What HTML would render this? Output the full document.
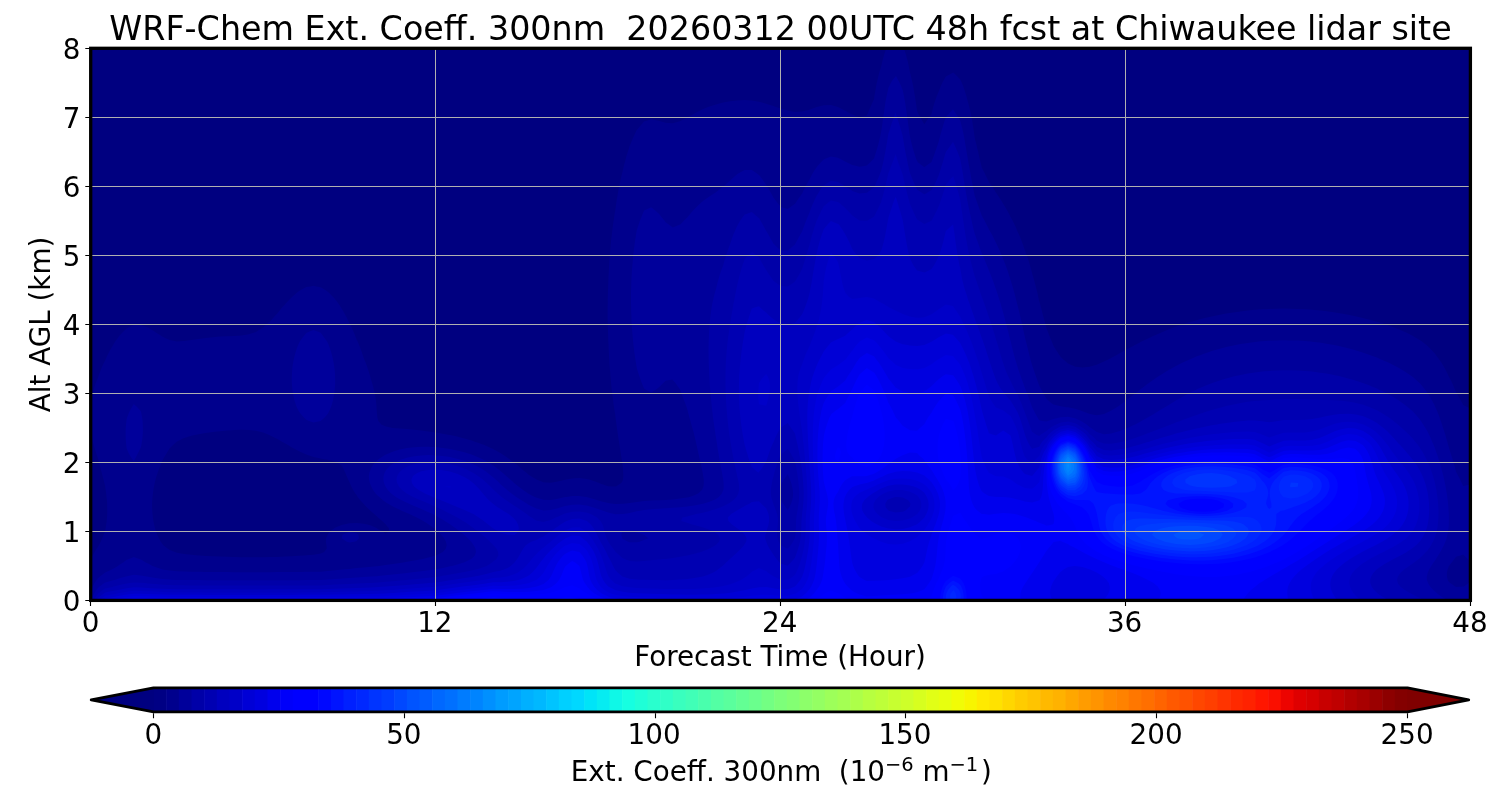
<!DOCTYPE html>
<html><head><meta charset="utf-8"><title>WRF-Chem Ext. Coeff.</title>
<style>html,body{margin:0;padding:0;background:#fff;}svg{display:block;}text{font-family:'DejaVu Sans','Liberation Sans',sans-serif;fill:#000;}</style></head><body>
<svg width="1500" height="800" viewBox="0 0 1500 800">
<rect width="1500" height="800" fill="#fff"/>
<g id="field">
<rect x="90.70" y="48.30" width="1379.70" height="552.10" fill="#000080"/>
<path fill="#00008d" fill-rule="evenodd" d="M97.9 600.4L105.1 600.4L112.3 600.4L119.4 600.4L126.6 600.4L133.8 600.4L141 600.4L148.2 600.4L155.4 600.4L162.6 600.4L169.7 600.4L176.9 600.4L184.1 600.4L191.3 600.4L198.5 600.4L205.7 600.4L212.9 600.4L220 600.4L227.2 600.4L234.4 600.4L241.6 600.4L248.8 600.4L256 600.4L263.2 600.4L270.3 600.4L277.5 600.4L284.7 600.4L291.9 600.4L299.1 600.4L306.3 600.4L313.5 600.4L320.7 600.4L327.8 600.4L335 600.4L342.2 600.4L349.4 600.4L356.6 600.4L363.8 600.4L371 600.4L378.1 600.4L385.3 600.4L392.5 600.4L399.7 600.4L406.9 600.4L414.1 600.4L421.3 600.4L428.4 600.4L435.6 600.4L442.8 600.4L450 600.4L457.2 600.4L464.4 600.4L471.6 600.4L478.7 600.4L485.9 600.4L493.1 600.4L500.3 600.4L507.5 600.4L514.7 600.4L521.9 600.4L529 600.4L536.2 600.4L543.4 600.4L550.6 600.4L557.8 600.4L565 600.4L572.2 600.4L579.3 600.4L586.5 600.4L593.7 600.4L600.9 600.4L608.1 600.4L615.3 600.4L622.5 600.4L629.6 600.4L636.8 600.4L644 600.4L651.2 600.4L658.4 600.4L665.6 600.4L672.8 600.4L679.9 600.4L687.1 600.4L694.3 600.4L701.5 600.4L708.7 600.4L715.9 600.4L723.1 600.4L730.2 600.4L737.4 600.4L744.6 600.4L751.8 600.4L759 600.4L766.2 600.4L773.4 600.4L780.6 600.4L787.7 600.4L794.9 600.4L802.1 600.4L809.3 600.4L816.5 600.4L823.7 600.4L830.9 600.4L838 600.4L845.2 600.4L852.4 600.4L859.6 600.4L866.8 600.4L874 600.4L881.2 600.4L888.3 600.4L895.5 600.4L902.7 600.4L909.9 600.4L917.1 600.4L924.3 600.4L931.5 600.4L938.6 600.4L945.8 600.4L953 600.4L960.2 600.4L967.4 600.4L974.6 600.4L981.8 600.4L988.9 600.4L996.1 600.4L1003.3 600.4L1010.5 600.4L1017.7 600.4L1024.9 600.4L1032.1 600.4L1039.2 600.4L1046.4 600.4L1053.6 600.4L1060.8 600.4L1068 600.4L1075.2 600.4L1082.4 600.4L1089.5 600.4L1096.7 600.4L1103.9 600.4L1111.1 600.4L1118.3 600.4L1125.5 600.4L1132.7 600.4L1139.8 600.4L1147 600.4L1154.2 600.4L1161.4 600.4L1168.6 600.4L1175.8 600.4L1183 600.4L1190.1 600.4L1197.3 600.4L1204.5 600.4L1211.7 600.4L1218.9 600.4L1226.1 600.4L1233.3 600.4L1240.5 600.4L1247.6 600.4L1254.8 600.4L1262 600.4L1269.2 600.4L1276.4 600.4L1283.6 600.4L1290.8 600.4L1297.9 600.4L1305.1 600.4L1312.3 600.4L1319.5 600.4L1326.7 600.4L1333.9 600.4L1341.1 600.4L1348.2 600.4L1355.4 600.4L1362.6 600.4L1369.8 600.4L1377 600.4L1384.2 600.4L1391.4 600.4L1398.5 600.4L1405.7 600.4L1412.9 600.4L1420.1 600.4L1427.3 600.4L1434.5 600.4L1441.7 600.4L1448.8 600.4L1456 600.4L1463.2 600.4L1470.4 600.4L1470.4 596.9L1470.4 593.5L1470.4 590L1470.4 586.6L1470.4 583.1L1470.4 579.7L1470.4 576.2L1470.4 572.8L1470.4 569.3L1470.4 565.9L1470.4 562.4L1470.4 559L1470.4 555.5L1470.4 552.1L1470.4 548.6L1470.4 545.2L1470.4 541.7L1470.4 538.3L1470.4 534.8L1470.4 531.4L1470.4 527.9L1470.4 524.5L1470.4 521L1470.4 517.6L1470.4 514.1L1470.4 510.7L1470.4 507.2L1470.4 503.8L1470.4 500.3L1470.4 496.9L1470.4 493.4L1470.4 490L1470.4 486.5L1470.4 483.1L1470.4 479.6L1470.4 476.2L1470.4 472.7L1470.4 469.3L1470.4 465.8L1470.4 462.4L1470.4 458.9L1470.4 455.5L1470.4 452L1470.4 448.6L1470.4 445.1L1470.4 441.7L1470.4 438.2L1470.4 434.8L1470.4 431.3L1470.4 427.9L1470.4 424.4L1470.4 421L1470.4 417.5L1470.4 414.1L1470.4 410.6L1470.4 408.5L1467.7 407.2L1463.2 404.9L1462.6 403.7L1460.7 400.3L1458.8 396.8L1456.7 393.4L1456 392.2L1455.1 389.9L1453.7 386.5L1452.2 383L1450.5 379.6L1448.8 376.5L1447.1 372.7L1445.3 369.2L1443.3 365.8L1441.7 363.1L1438.8 358.9L1436.3 355.4L1434.5 353.1L1433.4 352L1430.1 348.5L1427.3 345.8L1426.4 345.1L1422 341.6L1420.1 340.2L1416.7 338.2L1412.9 335.9L1410.6 334.7L1405.7 332.3L1403.2 331.3L1398.5 329.3L1394.8 327.8L1391.4 326.5L1385.1 324.3L1377 321.8L1373.9 320.9L1369.8 319.7L1362.6 317.9L1360.7 317.4L1355.4 316.2L1348.2 314.7L1344.2 314L1341.1 313.4L1333.9 312.3L1326.7 311.3L1320.2 310.5L1312.3 309.8L1305.1 309.3L1297.9 308.9L1290.8 308.7L1283.6 308.6L1276.4 308.7L1269.2 308.9L1262 309.3L1254.8 309.8L1247.6 310.5L1240.5 311.4L1233.3 312.4L1226.1 313.5L1223.6 314L1218.9 314.9L1211.7 316.4L1207.2 317.4L1204.5 318.1L1197.3 320L1194.1 320.9L1190.1 322L1183 324.3L1175.8 326.8L1173.1 327.8L1168.6 329.5L1164.2 331.3L1161.4 332.4L1156.1 334.7L1154.2 335.5L1148.6 338.2L1147 338.9L1141.5 341.6L1139.8 342.5L1134.8 345.1L1132.7 346.2L1128.3 348.5L1125.5 350.1L1122 352L1118.3 354.1L1115.8 355.4L1111.1 358L1109.3 358.9L1103.9 361.6L1102.3 362.3L1096.7 364.7L1093.1 365.8L1089.5 366.8L1082.4 367.6L1075.2 366.7L1073.1 365.8L1068 363.4L1066.7 362.3L1062.8 358.9L1060.8 357.1L1059.7 355.4L1057.4 352L1055.1 348.5L1053.6 346.1L1051.8 341.6L1050.4 338.2L1049 334.7L1047.7 331.3L1046.4 327.9L1045.5 324.3L1044.6 320.9L1043.6 317.4L1042.7 314L1041.8 310.5L1040.9 307.1L1039.9 303.6L1039.2 301.3L1038.2 296.7L1037.5 293.3L1036.6 289.8L1035.8 286.4L1034.9 282.9L1033.9 279.5L1032.9 276L1032.1 273.2L1031 269.1L1030.1 265.7L1029.1 262.2L1028 258.8L1026.8 255.3L1025.5 251.9L1024.9 250.2L1024.3 248.4L1023.1 245L1021.8 241.5L1020.5 238.1L1019 234.6L1017.7 231.9L1016 227.7L1014.4 224.3L1012.7 220.8L1010.8 217.4L1009.1 213.9L1007.2 210.5L1005.2 207L1003.3 204L1001 200.1L998.8 196.7L996.4 193.2L994.2 189.8L992 186.3L989.5 182.9L987.7 179.4L986 176L984.3 172.5L982.5 169.1L981.8 167.6L981.3 165.6L980.5 162.2L979.7 158.7L978.9 155.3L978.1 151.8L977.3 148.4L976.5 144.9L975.6 141.5L974.8 138L974.2 134.6L973.8 131.1L973.3 127.7L972.7 124.2L972.2 120.8L971.5 117.3L970.9 113.9L970.1 110.4L969.3 107L968.4 103.5L967.4 100.1L966.5 96.6L965.5 93.2L964.4 89.7L963.2 86.3L961.8 82.8L960.2 79.4L956.9 75.9L953.3 72.5L946.8 75.9L945.8 76.5L944.1 79.4L942.3 82.8L940.7 86.3L939.4 89.7L938.6 91.7L938 93.2L936.6 96.6L935.4 100.1L934.2 103.5L933.2 107L932.3 110.4L931.5 113.9L929 117.3L926.7 120.8L924.4 124.2L922.2 120.8L920.3 117.3L918.5 113.9L917.1 111.1L916.5 107L916 103.5L915.5 100.1L915 96.6L914.4 93.2L913.8 89.7L913.2 86.3L912.5 82.8L911.7 79.4L910.9 75.9L910 72.5L909.3 69L908.6 65.6L907.9 62.1L907 58.7L906.1 55.2L905 51.8L903.9 48.3L895.5 48.3L888.3 48.3L886.4 48.3L885.1 51.8L884 55.2L883 58.7L882.2 62.1L881.4 65.6L880.4 69L879.3 72.5L878.4 75.9L877.6 79.4L876.8 82.8L876.1 86.3L875.5 89.7L874.9 93.2L874.3 96.6L874 99.2L872 103.5L870.4 107L869 110.4L867.5 113.9L866.8 115.5L859.6 117.2L852.4 114.6L851.1 113.9L845.2 110.7L838 107.1L830.9 105.1L823.7 105.2L816.7 107L809.3 109.7L806.4 110.4L802.1 111.6L794.9 111.9L787.7 110.6L780.6 108.5L776.1 107L773.4 106.1L766.2 103.7L759 101.7L751.8 100.5L744.6 100.1L737.4 100.5L730.2 101.3L723.1 102.6L719.4 103.5L715.9 104.4L708.7 106.7L701.5 109.8L700.3 110.4L694.3 113.5L687.7 117.3L681 120.8L679.9 121.3L672.8 123.3L665.6 122.8L658.6 120.8L651.2 119.3L646.7 120.8L644 121.6L641.7 124.2L638.7 127.7L636.8 130L636.2 131.1L634.6 134.6L633 138L631.5 141.5L630.1 144.9L629.6 146.1L628.9 148.4L627.8 151.8L626.7 155.3L625.7 158.7L624.8 162.2L623.9 165.6L623.1 169.1L622.5 171.7L621.4 176L620.6 179.4L619.9 182.9L619.2 186.3L618.5 189.8L617.9 193.2L617.3 196.7L616.7 200.1L616.2 203.6L615.7 207L615.3 210.2L614.6 213.9L614.1 217.4L613.6 220.8L613.1 224.3L612.6 227.7L612.2 231.2L611.8 234.6L611.4 238.1L611 241.5L610.7 245L610.4 248.4L610.1 251.9L609.8 255.3L609.5 258.8L609.3 262.2L609.1 265.7L608.9 269.1L608.7 272.6L608.5 276L608.4 279.5L608.3 282.9L608.1 286.4L608.1 288.3L608 289.8L607.9 293.3L607.8 296.7L607.7 300.2L607.7 303.6L607.6 307.1L607.6 310.5L607.6 314L607.6 317.4L607.7 320.9L607.8 324.3L607.8 327.8L608 331.3L608.1 334.6L608.2 338.2L608.3 341.6L608.5 345.1L608.6 348.5L608.8 352L609 355.4L609.2 358.9L609.4 362.3L609.6 365.8L609.9 369.2L610.2 372.7L610.4 376.1L610.8 379.6L611.1 383L611.4 386.5L611.8 389.9L612.2 393.4L612.6 396.8L613.1 400.3L613.5 403.7L614 407.2L614.5 410.6L615.1 414.1L615.3 415.4L615.5 417.5L616 421L616.4 424.4L616.9 427.9L617.4 431.3L617.9 434.8L618.4 438.2L619 441.7L619.5 445.1L620 448.6L620.6 452L621.1 455.5L621.7 458.9L622.2 462.4L622.5 464.4L622.6 465.8L623 469.3L623.2 472.7L623.3 476.2L622.9 479.6L622.5 481L621.3 483.1L615.8 486.5L612.1 486.5L608.1 486.3L600.9 483.8L599.1 483.1L593.7 481L589 479.6L586.5 478.9L579.3 478L572.2 478.4L566.2 479.6L557.8 481.6L550.6 482.8L543.4 482.2L536.5 479.6L531.1 476.2L529 474.9L526.5 472.7L521.9 469.3L518.1 465.8L514.7 463.2L513.7 462.4L509.2 458.9L507.5 457.7L504.3 455.5L500.3 453L498.6 452L493.1 449.1L492 448.6L485.9 445.8L484.3 445.1L478.7 442.9L474.9 441.7L471.6 440.5L464.4 438.5L463.1 438.2L457.2 436.6L450 435.1L447.9 434.8L442.8 433.7L435.6 432.5L428.4 431.5L426.3 431.3L421.3 430.6L414.1 429.8L406.9 429.1L399.7 428.5L392.6 427.9L385.3 426.3L381.3 424.4L378.3 421L377.4 417.5L377 414.1L376.7 410.6L376.5 407.2L376.3 403.7L375.9 400.3L375.4 396.8L374.8 393.4L374 389.9L373.1 386.5L372.1 383L371 379.6L370.1 376.1L369.1 372.7L368 369.2L366.8 365.8L365.5 362.3L364.1 358.9L362.9 355.4L361.7 352L360.5 348.5L359.1 345.1L357.6 341.6L356.6 339.5L356.1 338.2L354.8 334.7L353.3 331.3L351.8 327.8L350 324.3L349.4 323.2L348.4 320.9L346.7 317.4L344.8 314L342.8 310.5L342.2 309.6L340.7 307.1L338.4 303.6L335.9 300.2L335 299.1L332.9 296.7L329.5 293.3L327.8 291.7L324.9 289.8L320.7 287.3L316.2 286.4L313.5 285.8L310.4 286.4L306.3 287.1L301.2 289.8L299.1 291L296.2 293.3L292.3 296.7L288.8 300.2L285.7 303.6L284.7 304.8L282.5 307.1L279.6 310.5L277.5 313.2L276.7 314L273.5 317.4L270.6 320.9L266.6 324.3L263.2 327.6L257 331.3L256 332L248.8 334.3L245.9 334.7L241.6 335.4L234.4 335.9L227.2 336.2L220 336.6L212.9 337.2L205.7 337.9L204 338.2L198.5 338.9L191.3 340.1L184.1 341.1L176.9 341.4L169.7 340.1L165.7 338.2L162.6 336.8L159.6 334.7L155.4 332.2L154.1 331.3L148.4 327.8L141 324.9L133.8 324.9L127.9 327.8L126.6 328.4L123.7 331.3L120.3 334.7L119.4 335.7L117.6 338.2L115.2 341.6L113.1 345.1L112.3 346.5L111 348.5L109.1 352L107.3 355.4L105.8 358.9L105.1 360.6L104.2 362.3L102.5 365.8L101 369.2L99.7 372.7L98.5 376.1L97.9 378L97.2 379.6L95.8 383L94.6 386.5L93.6 389.9L92.7 393.4L91.9 396.8L91.3 400.3L90.8 403.7L90.7 407.2L90.7 410.6L90.7 414.1L90.7 417.5L90.7 421L90.7 424.4L90.7 427.9L90.7 429.4L90.9 431.3L91.4 434.8L92.1 438.2L92.8 441.7L93.7 445.1L94.7 448.6L95.8 452L97 455.5L97.9 457.8L99 462.4L99.9 465.8L100.8 469.3L101.7 472.7L102.6 476.2L103.5 479.6L104.4 483.1L105.1 485.7L105.7 490L106.2 493.4L106.5 496.9L106.9 500.3L107.1 503.8L107.2 507.2L107.2 510.7L107.2 514.1L107 517.6L106.7 521L106.2 524.5L105.7 527.9L105.1 530.9L103.7 534.8L102.3 538.3L100.7 541.7L98.9 545.2L97.9 547L96.8 548.6L94.6 552.1L92.6 555.5L90.9 559L90.7 562.4L90.7 565.9L90.7 569.3L90.7 572.8L90.7 576.2L90.7 579.7L90.7 583.1L90.7 586.6L90.7 590L90.7 593.5L90.7 596.9L90.7 600.4L97.9 600.4ZM200 555.5L198.5 555.4L191.3 554.8L184.1 554L176.9 552.7L174.9 552.1L169.7 550.1L167.6 548.6L163.4 545.2L162.6 544.3L160.8 541.7L158.9 538.3L157.2 534.8L155.9 531.4L155.4 529.8L154.9 527.9L154.1 524.5L153.4 521L152.9 517.6L152.5 514.1L152.3 510.7L152.1 507.2L152.1 503.8L152.3 500.3L152.5 496.9L152.9 493.4L153.4 490L154 486.5L154.7 483.1L155.4 480L156.5 476.2L157.6 472.7L158.9 469.3L160.2 465.8L161.6 462.4L162.6 459.9L163.2 458.9L165.2 455.5L167.4 452L169.5 448.6L173 445.1L176.8 441.7L183.4 438.2L191.3 435.7L196.3 434.8L198.5 434.3L205.7 433.1L212.9 432.1L219.7 431.3L227.2 430.5L234.4 430L241.6 429.7L248.8 429.9L256 430.8L257.8 431.3L263.2 432.6L268.6 434.8L270.3 435.4L275.8 438.2L277.5 439L281.9 441.7L284.7 443.2L287.9 445.1L291.9 447.4L294 448.6L299.1 451.3L300.7 452L306.3 454.5L309.1 455.5L313.5 457L320.7 458.6L322.7 458.9L327.8 459.8L335 461.3L337.3 462.4L341.8 465.8L343.7 469.3L345.3 472.7L346.7 476.2L348.2 479.6L349.4 482L351.3 486.5L353.1 490L355.3 493.4L356.6 495.1L357.7 496.9L360.3 500.3L363.5 503.8L366.7 507.2L370.4 510.7L374.2 514.1L378.1 517.5L382.1 521L385.3 523.9L388.7 527.9L389.3 531.4L385.3 533.8L382.8 531.4L378.1 529.3L376.6 527.9L371 525.6L367.3 524.5L363.8 523.7L356.6 522.9L349.4 523.3L343.8 524.5L342.2 524.8L335 527.7L330 531.4L327.8 534.5L326.1 538.3L325.9 541.7L326.4 545.2L326.8 548.6L324.2 552.1L320.7 553.6L313.5 554.7L306.3 555.3L303.4 555.5L299.1 555.8L291.9 556.2L284.7 556.6L277.5 556.9L270.3 557.1L263.2 557.2L256 557.3L248.8 557.3L241.6 557.2L234.4 557.1L227.2 556.8L220 556.6L212.9 556.3L205.7 555.9L200 555.5Z"/>
<path fill="#00009b" fill-rule="evenodd" d="M97.9 600.4L105.1 600.4L112.3 600.4L119.4 600.4L126.6 600.4L133.8 600.4L141 600.4L148.2 600.4L155.4 600.4L162.6 600.4L169.7 600.4L176.9 600.4L184.1 600.4L191.3 600.4L198.5 600.4L205.7 600.4L212.9 600.4L220 600.4L227.2 600.4L234.4 600.4L241.6 600.4L248.8 600.4L256 600.4L263.2 600.4L270.3 600.4L277.5 600.4L284.7 600.4L291.9 600.4L299.1 600.4L306.3 600.4L313.5 600.4L320.7 600.4L327.8 600.4L335 600.4L342.2 600.4L349.4 600.4L356.6 600.4L363.8 600.4L371 600.4L378.1 600.4L385.3 600.4L392.5 600.4L399.7 600.4L406.9 600.4L414.1 600.4L421.3 600.4L428.4 600.4L435.6 600.4L442.8 600.4L450 600.4L457.2 600.4L464.4 600.4L471.6 600.4L478.7 600.4L485.9 600.4L493.1 600.4L500.3 600.4L507.5 600.4L514.7 600.4L521.9 600.4L529 600.4L536.2 600.4L543.4 600.4L550.6 600.4L557.8 600.4L565 600.4L572.2 600.4L579.3 600.4L586.5 600.4L593.7 600.4L600.9 600.4L608.1 600.4L615.3 600.4L622.5 600.4L629.6 600.4L636.8 600.4L644 600.4L651.2 600.4L658.4 600.4L665.6 600.4L672.8 600.4L679.9 600.4L687.1 600.4L694.3 600.4L701.5 600.4L708.7 600.4L715.9 600.4L723.1 600.4L730.2 600.4L737.4 600.4L744.6 600.4L751.8 600.4L759 600.4L766.2 600.4L773.4 600.4L780.6 600.4L787.7 600.4L794.9 600.4L802.1 600.4L809.3 600.4L816.5 600.4L823.7 600.4L830.9 600.4L838 600.4L845.2 600.4L852.4 600.4L859.6 600.4L866.8 600.4L874 600.4L881.2 600.4L888.3 600.4L895.5 600.4L902.7 600.4L909.9 600.4L917.1 600.4L924.3 600.4L931.5 600.4L938.6 600.4L945.8 600.4L953 600.4L960.2 600.4L967.4 600.4L974.6 600.4L981.8 600.4L988.9 600.4L996.1 600.4L1003.3 600.4L1010.5 600.4L1017.7 600.4L1024.9 600.4L1032.1 600.4L1039.2 600.4L1046.4 600.4L1053.6 600.4L1060.8 600.4L1068 600.4L1075.2 600.4L1082.4 600.4L1089.5 600.4L1096.7 600.4L1103.9 600.4L1111.1 600.4L1118.3 600.4L1125.5 600.4L1132.7 600.4L1139.8 600.4L1147 600.4L1154.2 600.4L1161.4 600.4L1168.6 600.4L1175.8 600.4L1183 600.4L1190.1 600.4L1197.3 600.4L1204.5 600.4L1211.7 600.4L1218.9 600.4L1226.1 600.4L1233.3 600.4L1240.5 600.4L1247.6 600.4L1254.8 600.4L1262 600.4L1269.2 600.4L1276.4 600.4L1283.6 600.4L1290.8 600.4L1297.9 600.4L1305.1 600.4L1312.3 600.4L1319.5 600.4L1326.7 600.4L1333.9 600.4L1341.1 600.4L1348.2 600.4L1355.4 600.4L1362.6 600.4L1369.8 600.4L1377 600.4L1384.2 600.4L1391.4 600.4L1398.5 600.4L1405.7 600.4L1412.9 600.4L1420.1 600.4L1427.3 600.4L1434.5 600.4L1441.7 600.4L1448.8 600.4L1456 600.4L1463.2 600.4L1470.4 600.4L1470.4 596.9L1470.4 593.5L1470.4 590L1470.4 586.6L1470.4 583.1L1470.4 581.3L1468.7 583.1L1463.8 586.6L1456 587L1450.2 583.1L1448.8 581.8L1447.7 579.7L1446.9 576.2L1446.9 572.8L1447.7 569.3L1448.8 566.3L1451.7 562.4L1454.4 559L1456 556.8L1460.4 555.5L1463.2 554.6L1464.2 555.5L1467.7 559L1470.4 562.2L1470.4 559L1470.4 555.5L1470.4 552.1L1470.4 548.6L1470.4 545.2L1470.4 541.7L1470.4 538.3L1470.4 534.8L1470.4 531.4L1470.4 527.9L1470.4 524.5L1470.4 521L1470.4 517.6L1470.4 514.1L1470.4 510.7L1470.4 507.2L1470.4 503.8L1470.4 500.3L1470.4 496.9L1470.4 493.4L1470.4 490L1470.4 486.5L1470.4 484.6L1463.2 486.1L1461.8 483.1L1460.1 479.6L1458.4 476.2L1456.6 472.7L1456 471.6L1455.4 469.3L1454.5 465.8L1453.5 462.4L1452.5 458.9L1451.4 455.5L1450.3 452L1449.2 448.6L1448.2 445.1L1447.3 441.7L1446.3 438.2L1445.3 434.8L1444.2 431.3L1443.1 427.9L1442 424.4L1440.8 421L1439.6 417.5L1438.3 414.1L1436.9 410.6L1435.4 407.2L1434.5 405.1L1433.8 403.7L1431.9 400.3L1430 396.8L1427.9 393.4L1427.3 392.4L1425.4 389.9L1422.6 386.5L1420.1 383.6L1415.7 379.6L1412.9 377.1L1411.5 376.1L1406.6 372.7L1405.7 372L1401 369.2L1398.5 367.8L1394.7 365.8L1391.4 364L1387.7 362.3L1384.2 360.7L1379.9 358.9L1377 357.6L1371.1 355.4L1369.8 354.9L1362.6 352.4L1361.1 352L1355.4 350.2L1349.2 348.5L1341.1 346.5L1334.2 345.1L1326.7 343.7L1319.5 342.6L1312.3 341.8L1310.7 341.6L1305.1 341.1L1297.9 340.6L1290.8 340.4L1283.6 340.3L1276.4 340.4L1269.2 340.7L1262 341.3L1258.8 341.6L1254.8 342L1247.6 343L1240.5 344.1L1235.6 345.1L1233.3 345.5L1226.1 347.1L1220.7 348.5L1218.9 349L1211.7 351.1L1209.1 352L1204.5 353.5L1199.3 355.4L1197.3 356.1L1190.8 358.9L1183.2 362.3L1176.3 365.8L1170.1 369.2L1168.6 370L1164.2 372.7L1161.4 374.4L1158.8 376.1L1154.2 379.2L1148.8 383L1147 384.3L1144.2 386.5L1139.8 389.8L1135.2 393.4L1132.7 395.4L1130.8 396.8L1126.4 400.3L1125.5 401L1121.7 403.7L1118.3 406.2L1116.8 407.2L1111.3 410.6L1104 414.1L1096.7 415.3L1090 414.1L1082.4 411.2L1080.6 410.6L1075.2 408.8L1068 407.3L1066.5 407.2L1060.8 406.3L1053.6 404.5L1052.2 403.7L1048 400.3L1046.4 398.7L1045.3 396.8L1043.3 393.4L1041.5 389.9L1039.7 386.5L1038.3 383L1037.1 379.6L1035.9 376.1L1034.7 372.7L1033.5 369.2L1032.3 365.8L1031.3 362.3L1030.4 358.9L1029.5 355.4L1028.6 352L1027.8 348.5L1026.9 345.1L1026 341.6L1025.2 338.2L1024.4 334.7L1023.6 331.3L1022.9 327.8L1022.1 324.3L1021.3 320.9L1020.5 317.4L1019.7 314L1018.9 310.5L1018 307.1L1017.1 303.6L1016.3 300.2L1015.4 296.7L1014.5 293.3L1013.5 289.8L1012.6 286.4L1011.5 282.9L1010.5 279.8L1009.3 276L1008.2 272.6L1007 269.1L1005.8 265.7L1004.5 262.2L1003.3 259.4L1001.7 255.3L1000.2 251.9L998.7 248.4L997.1 245L996.1 243.1L995.4 241.5L993.7 238.1L991.9 234.6L990 231.2L988.9 229.3L988.2 227.7L986.4 224.3L984.7 220.8L982.8 217.4L981.8 215.5L981.2 213.9L980 210.5L978.7 207L977.5 203.6L976.3 200.1L975.1 196.7L974.6 195.2L974.2 193.2L973.5 189.8L972.8 186.3L972.2 182.9L971.5 179.4L970.9 176L970.3 172.5L969.7 169.1L969 165.6L968.4 162.2L967.8 158.7L967.4 156.6L967.2 155.3L966.6 151.8L966.1 148.4L965.5 144.9L964.9 141.5L964.3 138L963.6 134.6L962.9 131.1L962.1 127.7L961.2 124.2L960.3 120.8L958.4 117.3L956.2 113.9L953.8 110.4L953 109.3L951.9 110.4L948.7 113.9L945.8 117.3L944.6 120.8L943.5 124.2L942.5 127.7L941.5 131.1L940.5 134.6L939.6 138L938.7 141.5L937.6 144.9L936.4 148.4L935.2 151.8L934 155.3L932.7 158.7L931.5 161.9L926.6 165.6L924.3 167.3L922.1 165.6L917.8 162.2L916.1 158.7L915 155.3L913.9 151.8L912.9 148.4L912 144.9L911.1 141.5L910.3 138L909.9 136.2L909.6 134.6L909.2 131.1L908.7 127.7L908.2 124.2L907.8 120.8L907.3 117.3L906.8 113.9L906.3 110.4L905.8 107L905.3 103.5L904.7 100.1L904.1 96.6L903.4 93.2L902.7 90L901.2 86.3L899.6 82.8L897.9 79.4L896 75.9L892.9 79.4L890.9 82.8L889.2 86.3L888.3 88.1L888 89.7L887.2 93.2L886.5 96.6L885.8 100.1L885.2 103.5L884.7 107L884.2 110.4L883.7 113.9L883.2 117.3L882.7 120.8L882.3 124.2L881.8 127.7L881.3 131.1L880.6 134.6L879.8 138L879 141.5L878.1 144.9L877.1 148.4L876.1 151.8L875 155.3L874 158.5L870.3 162.2L866.8 165.5L859.6 166.7L854.8 165.6L852.4 165.1L846.6 162.2L845.2 161.5L839.9 158.7L838 157.8L830.9 156.5L825.3 158.7L823.7 159.4L820.9 162.2L817.9 165.6L816.5 167.4L815.3 169.1L813.1 172.5L811.2 176L809.5 179.4L807.4 182.9L805.5 186.3L803.8 189.8L802.3 193.2L799.8 196.7L797.4 200.1L795.3 203.6L790.5 207L787.7 208.9L781 207L778 203.6L775.3 200.1L773.4 197.6L771.1 193.2L769.2 189.8L767.1 186.3L766.2 184.8L764.9 182.9L762.5 179.4L759.9 176L759 174.9L755.6 172.5L751.8 170.1L744.6 170.1L740 172.5L737.4 174L735 176L731.2 179.4L730.2 180.4L727.2 182.9L723.6 186.3L719 189.8L715.9 192.2L714.3 193.2L709 196.7L704.3 200.1L701.5 202.3L700.1 203.6L696.5 207L694.3 209.2L693.1 210.5L690.1 213.9L687.2 217.4L683.8 220.8L680.6 224.3L672.8 227.4L668.5 224.3L665.6 222.2L664.6 220.8L661.9 217.4L659.1 213.9L655.3 210.5L651.2 207.2L644.1 210.5L642.6 213.9L641.2 217.4L639.9 220.8L638.7 224.3L637.6 227.7L636.8 230.1L636 234.6L635.5 238.1L634.9 241.5L634.5 245L634 248.4L633.6 251.9L633.2 255.3L632.9 258.8L632.6 262.2L632.3 265.7L632 269.1L631.8 272.6L631.6 276L631.4 279.5L631.3 282.9L631.2 286.4L631.1 289.8L631 293.3L631 296.7L631 300.2L631 303.6L631.1 307.1L631.1 310.5L631.3 314L631.4 317.4L631.5 320.9L631.7 324.3L631.9 327.8L632.2 331.3L632.5 334.7L632.8 338.2L633.1 341.6L633.5 345.1L633.9 348.5L634.3 352L634.8 355.4L635.3 358.9L635.8 362.3L636.4 365.8L636.8 368.3L638.2 372.7L639.3 376.1L640.5 379.6L641.8 383L643.2 386.5L644 388.5L646.4 389.9L651.2 392.6L655.3 389.9L658.4 387.7L659.8 386.5L663.4 383L665.6 380.7L672.3 379.6L675.4 383L677.9 386.5L679.9 389.2L681.4 393.4L682.7 396.8L684 400.3L685.3 403.7L686.6 407.2L687.1 408.7L687.6 410.6L688.5 414.1L689.4 417.5L690.4 421L691.3 424.4L692.3 427.9L693.3 431.3L694.2 434.8L695 438.2L695.8 441.7L696.5 445.1L697.3 448.6L698.1 452L698.9 455.5L699.7 458.9L700.5 462.4L701.3 465.8L702 469.3L702.6 472.7L703.2 476.2L703.7 479.6L703.8 483.1L703.4 486.5L702 490L698.1 493.4L694.3 495.2L689.4 496.9L687.1 497.4L679.9 498.6L672.8 499.4L665.6 499.9L658.4 500.2L654.9 500.3L651.2 500.5L644 501L636.8 501.9L629.6 503L623.5 503.8L615.3 504L613.1 503.8L608.1 503.1L600.9 501.3L597.8 500.3L593.7 499L586.5 497L579.3 495.9L572.2 496L566.7 496.9L565 497.1L557.8 498.7L550.6 500L543.4 499.7L536.2 497.6L534.8 496.9L529 493.9L523.1 490L521.9 489.1L518.5 486.5L514.7 483.5L510.4 479.6L507.5 477.1L506.5 476.2L502.6 472.7L500.3 470.8L498.4 469.3L493.8 465.8L488.4 462.4L485.9 460.9L482 458.9L478.7 457.4L474 455.5L471.6 454.5L464.4 452.2L457.2 450.4L450 449L447.2 448.6L442.8 447.9L435.6 447.1L428.4 446.8L421.3 446.8L414.1 447.2L406.9 448.1L404.6 448.6L399.7 449.5L392.5 451.7L385.3 454.8L384.1 455.5L378.8 458.9L375 462.4L372.3 465.8L371 468.4L369.3 472.7L368.8 476.2L369 479.6L369.8 483.1L371 486L373 490L375.5 493.4L378.1 496.1L383 500.3L385.3 502L388.1 503.8L392.5 506.3L394.4 507.2L399.7 509.8L401.6 510.7L406.9 513L409.4 514.1L414.1 516.3L416.8 517.6L421.3 519.9L423.3 521L428.4 524.2L433.6 527.9L435.6 529.6L437.7 531.4L441.2 534.8L442.8 536.8L444.1 538.3L445.9 541.7L446.7 545.2L445.8 548.6L442.8 551.9L435.8 555.5L428.4 557.6L422.8 559L421.3 559.3L414.1 560.6L406.9 561.8L403.1 562.4L399.7 562.9L392.5 563.9L385.3 565L379 565.9L371 566.7L363.8 567.4L356.6 568.1L349.4 568.9L344.9 569.3L342.2 569.6L335 570.2L327.8 570.9L320.7 571.7L313.5 571.7L306.3 571.8L299.1 571.9L291.9 572L284.7 572.1L277.5 572.1L270.3 572.2L263.2 572.2L256 572.2L248.8 572.2L241.6 572.2L234.4 572.2L227.2 572.1L220 572.1L212.9 572L205.7 571.9L198.5 571.8L191.3 571.7L184.1 571.6L176.9 571.2L169.7 570.6L162.6 569.4L155.4 567L152.5 565.9L148.2 563.6L145.8 562.4L141 559.5L139.3 559L133.8 556.9L128.9 559L126.6 559.8L123.1 562.4L119.4 564.7L117.8 565.9L112.3 569.2L105.1 572.4L100.2 576.2L97.9 578.2L96.8 579.7L94.5 583.1L92.7 586.6L91.3 590L90.7 591.9L90.7 593.5L90.7 596.9L90.7 600.4L97.9 600.4ZM349.4 542.5L354.3 541.7L356.6 541L359.1 538.3L358.4 534.8L356.6 533.5L349.4 532.1L342.5 534.8L341.7 538.3L346.8 541.7L349.4 542.5ZM133.8 461.1L135 458.9L136.8 455.5L138.6 452L140.3 448.6L141 447L141.4 445.1L141.9 441.7L142.4 438.2L142.7 434.8L142.9 431.3L142.9 427.9L142.8 424.4L142.6 421L142.1 417.5L141.5 414.1L141 411.6L140.3 410.6L137.3 407.2L133.8 403.9L131.8 407.2L130 410.6L128.4 414.1L127.1 417.5L126.6 419L126.4 421L126 424.4L125.7 427.9L125.6 431.3L125.6 434.8L125.7 438.2L125.9 441.7L126.2 445.1L126.6 448.5L128.1 452L129.9 455.5L132.2 458.9L133.8 461.1ZM313.5 422.6L320.7 421.1L324.7 417.5L327.7 414.1L329.5 410.6L330.9 407.2L332.1 403.7L333 400.3L333.7 396.8L334.3 393.4L334.7 389.9L335 386.5L335.2 383L335.2 379.6L335.1 376.1L334.9 372.7L334.6 369.2L334.1 365.8L333.6 362.3L332.9 358.9L332.1 355.4L331.1 352L330 348.5L328.7 345.1L327.8 342.8L327.1 341.6L324.8 338.2L322.2 334.7L320.7 332.8L317 331.3L313.5 329.9L310.1 331.3L306.3 332.9L304.8 334.7L302.1 338.2L299.8 341.6L299.1 342.8L298.1 345.1L296.8 348.5L295.6 352L294.7 355.4L293.8 358.9L293.2 362.3L292.6 365.8L292.2 369.2L292 372.7L291.8 376.1L291.8 379.6L291.8 383L292.1 386.5L292.4 389.9L292.9 393.4L293.6 396.8L294.4 400.3L295.5 403.7L296.8 407.2L298.4 410.6L299.1 411.8L300.8 414.1L303.9 417.5L306.3 419.8L309 421L313.5 422.6Z"/>
<path fill="#0000a8" fill-rule="evenodd" d="M97.9 600.4L105.1 600.4L112.3 600.4L119.4 600.4L126.6 600.4L133.8 600.4L141 600.4L148.2 600.4L155.4 600.4L162.6 600.4L169.7 600.4L176.9 600.4L184.1 600.4L191.3 600.4L198.5 600.4L205.7 600.4L212.9 600.4L220 600.4L227.2 600.4L234.4 600.4L241.6 600.4L248.8 600.4L256 600.4L263.2 600.4L270.3 600.4L277.5 600.4L284.7 600.4L291.9 600.4L299.1 600.4L306.3 600.4L313.5 600.4L320.7 600.4L327.8 600.4L335 600.4L342.2 600.4L349.4 600.4L356.6 600.4L363.8 600.4L371 600.4L378.1 600.4L385.3 600.4L392.5 600.4L399.7 600.4L406.9 600.4L414.1 600.4L421.3 600.4L428.4 600.4L435.6 600.4L442.8 600.4L450 600.4L457.2 600.4L464.4 600.4L471.6 600.4L478.7 600.4L485.9 600.4L493.1 600.4L500.3 600.4L507.5 600.4L514.7 600.4L521.9 600.4L529 600.4L536.2 600.4L543.4 600.4L550.6 600.4L557.8 600.4L565 600.4L572.2 600.4L579.3 600.4L586.5 600.4L593.7 600.4L600.9 600.4L608.1 600.4L615.3 600.4L622.5 600.4L629.6 600.4L636.8 600.4L644 600.4L651.2 600.4L658.4 600.4L665.6 600.4L672.8 600.4L679.9 600.4L687.1 600.4L694.3 600.4L701.5 600.4L708.7 600.4L715.9 600.4L723.1 600.4L730.2 600.4L737.4 600.4L744.6 600.4L751.8 600.4L759 600.4L766.2 600.4L773.4 600.4L780.6 600.4L787.7 600.4L794.9 600.4L802.1 600.4L809.3 600.4L816.5 600.4L823.7 600.4L830.9 600.4L838 600.4L845.2 600.4L852.4 600.4L859.6 600.4L866.8 600.4L874 600.4L881.2 600.4L888.3 600.4L895.5 600.4L902.7 600.4L909.9 600.4L917.1 600.4L924.3 600.4L931.5 600.4L938.6 600.4L945.8 600.4L953 600.4L960.2 600.4L967.4 600.4L974.6 600.4L981.8 600.4L988.9 600.4L996.1 600.4L1003.3 600.4L1010.5 600.4L1017.7 600.4L1024.9 600.4L1032.1 600.4L1039.2 600.4L1046.4 600.4L1053.6 600.4L1060.8 600.4L1068 600.4L1075.2 600.4L1082.4 600.4L1089.5 600.4L1096.7 600.4L1103.9 600.4L1111.1 600.4L1118.3 600.4L1125.5 600.4L1132.7 600.4L1139.8 600.4L1147 600.4L1154.2 600.4L1161.4 600.4L1168.6 600.4L1175.8 600.4L1183 600.4L1190.1 600.4L1197.3 600.4L1204.5 600.4L1211.7 600.4L1218.9 600.4L1226.1 600.4L1233.3 600.4L1240.5 600.4L1247.6 600.4L1254.8 600.4L1262 600.4L1269.2 600.4L1276.4 600.4L1283.6 600.4L1290.8 600.4L1297.9 600.4L1305.1 600.4L1312.3 600.4L1319.5 600.4L1326.7 600.4L1333.9 600.4L1341.1 600.4L1348.2 600.4L1355.4 600.4L1362.6 600.4L1369.8 600.4L1377 600.4L1384.2 600.4L1391.4 600.4L1398.5 600.4L1405.7 600.4L1412.9 600.4L1420.1 600.4L1427.3 600.4L1434.5 600.4L1441.7 600.4L1448 600.4L1442 596.9L1437.3 593.5L1434.5 591.1L1433.3 590L1430.1 586.6L1428 583.1L1427.3 580.9L1426.9 579.7L1426.8 576.2L1427.3 574.7L1427.7 572.8L1429.3 569.3L1431.3 565.9L1433.6 562.4L1434.5 561.3L1436 559L1438.2 555.5L1440.3 552.1L1441.7 549.5L1443.9 545.2L1445.4 541.7L1446.6 538.3L1447.4 534.8L1448.1 531.4L1448.5 527.9L1448.8 524.5L1448.8 522.6L1448.9 521L1448.9 517.6L1448.8 515.7L1448.8 514.1L1448.6 510.7L1448.4 507.2L1448.1 503.8L1447.7 500.3L1447.3 496.9L1446.8 493.4L1446.2 490L1445.6 486.5L1444.9 483.1L1444.2 479.6L1443.4 476.2L1442.5 472.7L1441.7 469.8L1440.6 465.8L1439.6 462.4L1438.6 458.9L1437.5 455.5L1436.3 452L1435 448.6L1434.5 447.1L1433.7 445.1L1432.2 441.7L1430.7 438.2L1429.1 434.8L1427.4 431.3L1425.4 427.9L1423.2 424.4L1420.9 421L1420.1 419.8L1418.2 417.5L1415.2 414.1L1412.9 411.6L1411.8 410.6L1407.9 407.2L1405.7 405.4L1403.4 403.7L1398.5 400.3L1392.9 396.8L1391.4 395.9L1386.6 393.4L1384.2 392.1L1379.7 389.9L1377 388.6L1371.8 386.5L1369.8 385.6L1362.8 383L1355.4 380.5L1352.1 379.6L1348.2 378.4L1341.1 376.6L1338.9 376.1L1333.9 375L1326.7 373.6L1320.3 372.7L1312.3 371.6L1305.1 371L1297.9 370.5L1290.8 370.3L1283.6 370.3L1276.4 370.5L1269.2 370.9L1262 371.6L1254.8 372.5L1247.6 373.6L1240.5 374.9L1235.3 376.1L1233.3 376.6L1226.1 378.5L1222.5 379.6L1218.9 380.7L1212.2 383L1204.5 386L1203.4 386.5L1197.3 389.1L1195.8 389.9L1190.1 392.6L1188.8 393.4L1183 396.5L1176.3 400.3L1170.6 403.7L1168.6 404.9L1164.9 407.2L1161.4 409.3L1159.3 410.6L1154.2 413.7L1147.7 417.5L1141.6 421L1139.8 421.9L1135 424.4L1132.7 425.5L1127.7 427.9L1125.5 428.8L1119 431.3L1111.1 433.5L1103.9 434.3L1096.7 432.1L1095.8 431.3L1091.1 427.9L1089.5 427L1086.7 424.4L1082.4 421.7L1081 421L1075.2 418.2L1071.5 417.5L1068 416.7L1060.8 417.2L1059.5 417.5L1053.6 419.1L1047.8 421L1046.4 421.6L1042.2 421L1039.2 420.2L1037.5 417.5L1035.6 414.1L1033.8 410.6L1032.1 407.2L1030.9 403.7L1029.7 400.3L1028.5 396.8L1027.1 393.4L1025.7 389.9L1024.9 387.8L1024.4 386.5L1023.2 383L1021.9 379.6L1020.7 376.1L1019.5 372.7L1018.3 369.2L1017.7 367.3L1017.2 365.8L1016.2 362.3L1015.2 358.9L1014.2 355.4L1013.3 352L1012.4 348.5L1011.5 345.1L1010.7 341.6L1009.8 338.2L1009 334.7L1008.1 331.3L1007.2 327.8L1006.3 324.3L1005.4 320.9L1004.5 317.4L1003.6 314L1002.6 310.5L1001.6 307.1L1000.6 303.6L999.5 300.2L998.4 296.7L997.3 293.3L996.2 289.8L995 286.4L993.8 282.9L992.5 279.5L991.2 276L989.8 272.6L988.9 270.4L988.4 269.1L987.1 265.7L985.6 262.2L984.2 258.8L982.7 255.3L981.8 253.2L981.3 251.9L980 248.4L978.8 245L977.5 241.5L976.3 238.1L975 234.6L974.6 233.3L974 231.2L973.2 227.7L972.4 224.3L971.6 220.8L970.9 217.4L970.1 213.9L969.4 210.5L968.6 207L967.9 203.6L967.4 200.9L966.7 196.7L966.1 193.2L965.5 189.8L965 186.3L964.4 182.9L963.8 179.4L963.2 176L962.7 172.5L962.1 169.1L961.5 165.6L960.8 162.2L960.2 158.9L958.9 155.3L957.5 151.8L956.1 148.4L954.5 144.9L953 141.8L950.8 144.9L948.3 148.4L945.9 151.8L944.8 155.3L943.8 158.7L942.8 162.2L941.7 165.6L940.7 169.1L939.6 172.5L938.6 175.4L936.9 179.4L935.3 182.9L933.6 186.3L931.9 189.8L926.4 193.2L924.3 194.3L922.6 193.2L917.3 189.8L915.6 186.3L914 182.9L912.6 179.4L911.2 176L909.9 172.7L909 169.1L908.2 165.6L907.5 162.2L906.8 158.7L906.1 155.3L905.4 151.8L904.8 148.4L904.2 144.9L903.6 141.5L903.1 138L902.7 135.9L902.3 134.6L901.3 131.1L900.3 127.7L899.3 124.2L898.2 120.8L897.1 117.3L896 113.9L895.5 112.6L895 113.9L893.8 117.3L892.6 120.8L891.4 124.2L890.3 127.7L889.3 131.1L888.3 134.1L887.7 138L887.1 141.5L886.5 144.9L885.9 148.4L885.3 151.8L884.6 155.3L883.9 158.7L883.2 162.2L882.4 165.6L881.6 169.1L881.2 170.8L880.5 172.5L879.1 176L877.6 179.4L876.1 182.9L874.5 186.3L874 187.5L870.9 189.8L866.8 192.8L861.7 193.2L859.6 193.4L852.4 191L850.7 189.8L845.3 186.3L839.7 182.9L838 181.9L830.9 180.8L827.4 182.9L823.7 185.2L822.8 186.3L820.4 189.8L818.2 193.2L816.5 196.1L814.5 200.1L813 203.6L811.5 207L810.2 210.5L809.3 213.1L807.4 217.4L806 220.8L804.7 224.3L803.4 227.7L802.2 231.2L800.3 234.6L798.4 238.1L796.5 241.5L794.9 244.5L790.2 248.4L787.7 250.5L780.6 250.3L778.5 248.4L774.9 245L773.4 243.5L772.3 241.5L770.3 238.1L768.4 234.6L766.4 231.2L764.5 227.7L762.6 224.3L760.6 220.8L759 218.1L758.1 217.4L754.1 213.9L751.8 212.1L746.2 213.9L744.6 214.5L742.4 217.4L740.1 220.8L738.1 224.3L737.4 225.4L736.3 227.7L734.8 231.2L733.4 234.6L732.1 238.1L731 241.5L730.2 243.8L729.8 245L728.4 248.4L727.2 251.9L726.1 255.3L725 258.8L724 262.2L723.1 265.7L721.8 269.1L720.5 272.6L719.4 276L718.4 279.5L717.4 282.9L716.6 286.4L715.9 289.3L714.7 293.3L713.8 296.7L713 300.2L712.3 303.6L711.7 307.1L711.2 310.5L710.7 314L710.2 317.4L709.9 320.9L709.6 324.3L709.3 327.8L709.1 331.3L708.9 334.7L708.8 338.2L708.7 340.6L708.6 345.1L708.5 348.5L708.5 352L708.6 355.4L708.6 358.9L708.7 360.8L708.7 362.3L708.8 365.8L709 369.2L709.1 372.7L709.3 376.1L709.5 379.6L709.7 383L709.9 386.5L710.2 389.9L710.5 393.4L710.8 396.8L711.1 400.3L711.5 403.7L711.8 407.2L712.2 410.6L712.6 414.1L713 417.5L713.5 421L714 424.4L714.5 427.9L715 431.3L715.5 434.8L715.9 436.9L716.1 438.2L716.6 441.7L717.1 445.1L717.6 448.6L718.2 452L718.8 455.5L719.4 458.9L720 462.4L720.6 465.8L721.3 469.3L722 472.7L722.6 476.2L723.1 478.7L723.6 483.1L723.7 486.5L723.3 490L721.8 493.4L718.8 496.9L715.9 498.9L713.3 500.3L708.7 502.1L703 503.8L701.5 504.1L694.3 505.5L687.1 506.4L679.9 507.2L672.8 507.8L665.6 508.3L658.4 508.7L651.2 509.2L644 510L640 510.7L636.8 511.3L629.6 513L623 514.1L615.3 514.3L608.1 512.6L603 510.7L600.9 510L593.7 507.5L586.5 505.5L579.3 504.5L572.2 504.7L565 506.1L560.9 507.2L557.8 508.2L550.6 510.1L543.4 510.4L536.2 508.5L533.7 507.2L529 504.9L527.1 503.8L521.9 500.6L516.3 496.9L514.7 495.8L511.5 493.4L507.5 490.3L503.2 486.5L500.3 483.9L499.5 483.1L495.8 479.6L493.1 477.3L491.8 476.2L487.5 472.7L485.9 471.6L482.4 469.3L478.7 467.1L476.3 465.8L471.6 463.6L468.5 462.4L464.4 460.8L457.8 458.9L450 457.1L442.8 456L436.6 455.5L428.4 455.1L421.3 455.4L414.1 456.2L406.9 457.7L403.1 458.9L399.7 460.1L395.1 462.4L392.5 464L390.1 465.8L386.7 469.3L385.3 471.6L384.6 472.7L383.5 476.2L383.3 479.6L384 483.1L385.3 486.2L387.8 490L391.2 493.4L392.5 494.4L395.8 496.9L399.7 499.2L401.7 500.3L406.9 502.8L409 503.8L414.1 505.9L417.2 507.2L421.3 509L425.2 510.7L428.4 512.2L432.5 514.1L435.6 515.8L438.9 517.6L442.8 519.8L444.8 521L450 524.3L455.2 527.9L457.2 529.4L459.9 531.4L464.1 534.8L467.9 538.3L471.2 541.7L473.7 545.2L475.4 548.6L476 552.1L474.8 555.5L471.6 558.7L464.4 562.2L457.2 564.5L452 565.9L450 566.3L442.8 567.9L435.9 569.3L428.4 570.3L421.3 571.2L414.1 572.1L408.4 572.8L406.9 573L399.7 573.7L392.5 574.5L385.3 575.3L378.1 576.1L376.5 576.2L371 576.6L363.8 577.1L356.6 577.5L349.4 578L342.2 578.6L335 579.1L327.8 579.6L320.7 580.1L313.5 580.1L306.3 580.1L299.1 580.2L291.9 580.2L284.7 580.2L277.5 580.2L270.3 580.2L263.2 580.2L256 580.2L248.8 580.2L241.6 580.2L234.4 580.2L227.2 580.2L220 580.2L212.9 580.2L205.7 580.2L198.5 580.1L191.3 580.1L184.1 580L176.9 579.9L171.5 579.7L169.7 579.6L162.6 579L155.4 577.9L148.2 576.7L145.3 576.2L141 575.4L133.8 574.8L126.9 576.2L119.4 578.3L115.4 579.7L112.3 580.6L105.1 582.6L99.5 586.6L97.9 587.9L96.3 590L94.2 593.5L92.5 596.9L91.2 600.4L97.9 600.4ZM628.1 541.7L622.5 538.8L621.2 534.8L622.5 531.6L629.6 530.7L632.8 531.4L636.8 532.5L644 534.8L648.4 538.3L644 540.1L639.6 541.7L636.8 542.2L629.6 542.3L628.1 541.7ZM785.8 507.2L783.3 503.8L781.1 500.3L780.6 498.9L780.2 496.9L779.9 493.4L780.1 490L780.5 486.5L782 483.1L783.9 479.6L786.3 476.2L787.7 474.2L788.6 476.2L790 479.6L791.2 483.1L792.1 486.5L792.8 490L793.1 493.4L792.9 496.9L792.2 500.3L791 503.8L789.3 507.2L787.7 509.9L785.8 507.2Z"/>
<path fill="#0000b2" fill-rule="evenodd" d="M97.9 600.4L105.1 600.4L112.3 600.4L119.4 600.4L126.6 600.4L133.8 600.4L141 600.4L148.2 600.4L155.4 600.4L162.6 600.4L169.7 600.4L176.9 600.4L184.1 600.4L191.3 600.4L198.5 600.4L205.7 600.4L212.9 600.4L220 600.4L227.2 600.4L234.4 600.4L241.6 600.4L248.8 600.4L256 600.4L263.2 600.4L270.3 600.4L277.5 600.4L284.7 600.4L291.9 600.4L299.1 600.4L306.3 600.4L313.5 600.4L320.7 600.4L327.8 600.4L335 600.4L342.2 600.4L349.4 600.4L356.6 600.4L363.8 600.4L371 600.4L378.1 600.4L385.3 600.4L392.5 600.4L399.7 600.4L406.9 600.4L414.1 600.4L421.3 600.4L428.4 600.4L435.6 600.4L442.8 600.4L450 600.4L457.2 600.4L464.4 600.4L471.6 600.4L478.7 600.4L485.9 600.4L493.1 600.4L500.3 600.4L507.5 600.4L514.7 600.4L521.9 600.4L529 600.4L536.2 600.4L543.4 600.4L550.6 600.4L557.8 600.4L565 600.4L572.2 600.4L579.3 600.4L586.5 600.4L593.7 600.4L600.9 600.4L608.1 600.4L615.3 600.4L622.5 600.4L629.6 600.4L636.8 600.4L644 600.4L651.2 600.4L658.4 600.4L665.6 600.4L672.8 600.4L679.9 600.4L687.1 600.4L694.3 600.4L701.5 600.4L708.7 600.4L715.9 600.4L723.1 600.4L730.2 600.4L737.4 600.4L744.6 600.4L751.8 600.4L759 600.4L766.2 600.4L773.4 600.4L780.6 600.4L787.7 600.4L794.9 600.4L802.1 600.4L809.3 600.4L816.5 600.4L823.7 600.4L830.9 600.4L838 600.4L845.2 600.4L852.4 600.4L859.6 600.4L866.8 600.4L874 600.4L881.2 600.4L888.3 600.4L895.5 600.4L902.7 600.4L909.9 600.4L917.1 600.4L924.3 600.4L931.5 600.4L938.6 600.4L945.8 600.4L953 600.4L960.2 600.4L967.4 600.4L974.6 600.4L981.8 600.4L988.9 600.4L996.1 600.4L1003.3 600.4L1010.5 600.4L1017.7 600.4L1024.9 600.4L1032.1 600.4L1039.2 600.4L1046.4 600.4L1053.6 600.4L1060.8 600.4L1068 600.4L1075.2 600.4L1082.4 600.4L1089.5 600.4L1096.7 600.4L1103.9 600.4L1111.1 600.4L1118.3 600.4L1125.5 600.4L1132.7 600.4L1139.8 600.4L1147 600.4L1154.2 600.4L1161.4 600.4L1168.6 600.4L1175.8 600.4L1183 600.4L1190.1 600.4L1197.3 600.4L1204.5 600.4L1211.7 600.4L1218.9 600.4L1226.1 600.4L1233.3 600.4L1240.5 600.4L1247.6 600.4L1254.8 600.4L1262 600.4L1269.2 600.4L1276.4 600.4L1283.6 600.4L1290.8 600.4L1297.9 600.4L1305.1 600.4L1312.3 600.4L1319.5 600.4L1326.7 600.4L1333.9 600.4L1341.1 600.4L1348.2 600.4L1355.4 600.4L1362.6 600.4L1369.8 600.4L1377 600.4L1384.2 600.4L1391.4 600.4L1398.5 600.4L1405.7 600.4L1412.9 600.4L1420.1 600.4L1424.2 600.4L1420.1 598.1L1417.6 596.9L1412.9 594.5L1410.8 593.5L1405.7 590.6L1404.8 590L1400.3 586.6L1398.5 584.3L1397.8 583.1L1397 579.7L1398 576.2L1400.6 572.8L1404.5 569.3L1405.7 568.5L1409.3 565.9L1412.9 563.5L1414.3 562.4L1418.9 559L1420.1 558.1L1422.7 555.5L1426.1 552.1L1427.3 550.8L1428.9 548.6L1431.1 545.2L1433 541.7L1434.5 538.4L1435.7 534.8L1436.7 531.4L1437.4 527.9L1437.9 524.5L1438.2 521L1438.4 517.6L1438.5 514.1L1438.5 510.7L1438.3 507.2L1438.1 503.8L1437.8 500.3L1437.4 496.9L1436.9 493.4L1436.4 490L1435.7 486.5L1434.9 483.1L1434.5 481.3L1434 479.6L1433.1 476.2L1432 472.7L1430.8 469.3L1429.4 465.8L1428 462.4L1427.3 460.7L1426.4 458.9L1424.5 455.5L1422.6 452L1420.4 448.6L1418 445.1L1415.3 441.7L1412.9 438.8L1409.1 434.8L1405.7 431.5L1401.9 427.9L1398.5 425L1393.6 421L1391.4 419.3L1388.9 417.5L1384.2 414.4L1377.5 410.6L1370 407.2L1362.6 404.5L1359.2 403.7L1355.4 402.7L1348.2 401.4L1341.1 400.7L1334.5 400.3L1326.7 399.9L1319.5 399.7L1312.3 399.4L1305.1 399.2L1297.9 399.1L1290.8 399.1L1283.6 399.2L1276.4 399.5L1269.2 399.9L1263.6 400.3L1262 400.4L1254.8 400.9L1247.6 401.8L1240.5 403L1236.9 403.7L1233.3 404.4L1226.1 406L1221.9 407.2L1218.9 407.9L1211.7 410L1209.9 410.6L1204.5 412.2L1199.3 414.1L1197.3 414.7L1190.1 417.2L1183 419.8L1180.1 421L1175.8 422.5L1170.9 424.4L1168.6 425.2L1161.9 427.9L1154.2 430.8L1153 431.3L1147 433.5L1143.9 434.8L1139.8 436.2L1134.2 438.2L1132.7 438.7L1125.5 440.9L1122.5 441.7L1118.3 442.6L1111.1 443.7L1103.9 443.6L1099.3 441.7L1096.7 440.6L1094.7 438.2L1090.7 434.8L1089.5 433.9L1087.3 431.3L1083.1 427.9L1077.6 424.4L1075.2 423.2L1068 421.6L1060.8 422.5L1056.2 424.4L1053.6 425.7L1050 427.9L1046.4 431.1L1040.4 434.8L1039.2 436L1036.4 434.8L1032.1 431.8L1030.6 427.9L1029.3 424.4L1028.1 421L1026.8 417.5L1025.5 414.1L1024.9 412.6L1024.2 410.6L1022.9 407.2L1021.6 403.7L1020.1 400.3L1018.5 396.8L1017.7 395L1016.8 393.4L1015 389.9L1013.2 386.5L1011.5 383L1010.5 380.9L1009.8 379.6L1008.1 376.1L1006.6 372.7L1005.3 369.2L1004.1 365.8L1003.3 363.4L1001.9 358.9L1000.8 355.4L999.8 352L998.8 348.5L997.8 345.1L996.7 341.6L996.1 339.5L995.7 338.2L994.7 334.7L993.6 331.3L992.5 327.8L991.4 324.3L990.3 320.9L989.1 317.4L987.9 314L986.8 310.5L985.6 307.1L984.3 303.6L983.1 300.2L981.8 296.7L980.6 293.3L979.5 289.8L978.3 286.4L977.1 282.9L975.9 279.5L974.7 276L973.7 272.6L972.8 269.1L971.9 265.7L971 262.2L970.2 258.8L969.4 255.3L968.6 251.9L967.9 248.4L967.4 245.9L966.6 241.5L966 238.1L965.4 234.6L964.9 231.2L964.3 227.7L963.8 224.3L963.3 220.8L962.8 217.4L962.3 213.9L961.8 210.5L961.3 207L960.8 203.6L960.2 200.1L959.4 196.7L958.5 193.2L957.5 189.8L956.5 186.3L955.5 182.9L954.4 179.4L953.2 176L949.9 179.4L947.2 182.9L945.8 184.4L945.3 186.3L944.2 189.8L943.1 193.2L942 196.7L940.9 200.1L939.7 203.6L938.6 206.5L936.7 210.5L935 213.9L933.2 217.4L931.5 220.7L924.3 224.1L919.3 220.8L917.1 219.4L916.1 217.4L914.4 213.9L912.8 210.5L911.3 207L909.9 203.7L908.9 200.1L908 196.7L907.1 193.2L906.2 189.8L905.4 186.3L904.6 182.9L903.8 179.4L903.1 176L902.7 174.4L902 172.5L900.7 169.1L899.4 165.6L898.2 162.2L897.1 158.7L895.9 155.3L895.5 154.1L895.1 155.3L893.9 158.7L892.6 162.2L891.3 165.6L890 169.1L888.6 172.5L887.7 176L887 179.4L886.1 182.9L885.3 186.3L884.4 189.8L883.5 193.2L882.6 196.7L881.6 200.1L881.2 201.9L880.4 203.6L878.8 207L877.1 210.5L875.4 213.9L874 216.5L872.7 217.4L867 220.8L865 220.8L859.6 220.4L855.2 217.4L852.4 215.6L851 213.9L847.7 210.5L845.2 208.1L844.1 207L840.1 203.6L838 201.9L830.9 200.5L826.9 203.6L823.7 206.3L821.4 210.5L819.7 213.9L818.1 217.4L816.6 220.8L815.4 224.3L814.2 227.7L813.2 231.2L812.1 234.6L811.2 238.1L810.3 241.5L809.4 245L808.3 248.4L807.3 251.9L806.2 255.3L805.2 258.8L804.2 262.2L803.1 265.7L802.1 268.9L800.2 272.6L798.3 276L796.2 279.5L794.9 281.6L793 282.9L787.7 286.4L780.6 286L776.4 282.9L773.4 280.7L772.5 279.5L770.1 276L767.8 272.6L766.2 270L763.6 265.7L761.6 262.2L759.8 258.8L759 257.4L756.4 255.3L752.2 251.9L747.9 255.3L744.9 258.8L743.5 262.2L742.4 265.7L741.3 269.1L740.4 272.6L739.4 276L738.5 279.5L737.7 282.9L736.9 286.4L736.2 289.8L735.5 293.3L734.8 296.7L734.2 300.2L733.5 303.6L732.9 307.1L732.3 310.5L731.7 314L731.1 317.4L730.6 320.9L730.2 323.1L729.5 327.8L729 331.3L728.5 334.7L728 338.2L727.6 341.6L727.2 345.1L726.9 348.5L726.6 352L726.3 355.4L726.1 358.9L725.9 362.3L725.7 365.8L725.6 369.2L725.5 372.7L725.5 376.1L725.4 379.6L725.4 383L725.5 386.5L725.6 389.9L725.7 393.4L725.8 396.8L726 400.3L726.2 403.7L726.4 407.2L726.7 410.6L727 414.1L727.3 417.5L727.7 421L728 424.4L728.5 427.9L728.9 431.3L729.4 434.8L729.9 438.2L730.2 440.4L731 445.1L731.6 448.6L732.2 452L732.9 455.5L733.5 458.9L734.2 462.4L735 465.8L735.7 469.3L736.5 472.7L737.2 476.2L738 479.6L738.7 483.1L739.1 486.5L739.1 490L738.3 493.4L737.4 495.1L736.5 496.9L733.2 500.3L730.2 502.4L728 503.8L723.1 506.2L720.6 507.2L715.9 509L710.1 510.7L708.7 511.2L701.5 513L695.7 514.1L694.3 514.6L687.1 516.5L682.4 517.6L681.2 521L687.1 522.8L691.9 524.5L694.3 525L701.5 526.9L704.4 527.9L708.7 529.4L713.2 531.4L715.9 533.1L718.2 534.8L720 538.3L719 541.7L715.9 545.1L709.6 548.6L701.5 551.8L694.3 553.8L687.1 555.4L679.9 556.7L672.8 557.9L665.6 558.9L664 559L658.4 559.5L651.2 560.2L644 560.9L636.8 561.5L629.6 561L624.8 559L622.5 558.1L619.8 555.5L615.7 552.1L613.2 548.6L610.7 545.2L608.3 541.7L606.7 538.3L605.5 534.8L604.5 531.4L603.7 527.9L602.6 524.5L600.9 521.6L597.1 517.6L593.7 515.5L590.7 514.1L586.5 512.6L579.3 511.4L572.2 511.7L565 513.6L563.7 514.1L557.8 516.7L555.7 517.6L550.6 520.1L546.8 521L543.4 522.1L538.4 521L536.2 520.6L531.8 517.6L529 515.9L526.8 514.1L521.9 510.7L516.8 507.2L514.7 505.9L511.4 503.8L507.5 501.1L506.3 500.3L501.7 496.9L500.3 495.8L497.6 493.4L493.9 490L493.1 489.2L490.4 486.5L486.8 483.1L485.9 482.3L482.9 479.6L478.7 476.4L473.1 472.7L471.6 471.9L466.2 469.3L464.4 468.5L457.2 466L450 464.2L442.8 463L436.5 462.4L428.4 462.2L426.3 462.4L421.3 462.8L414.1 464.2L409.2 465.8L406.9 466.8L402.7 469.3L399.7 471.9L398.9 472.7L397.1 476.2L396.5 479.6L397.1 483.1L398.9 486.5L399.7 487.4L402.1 490L406.6 493.4L412.9 496.9L414.1 497.5L420.5 500.3L428.4 503.6L435.6 506.7L436.8 507.2L442.8 510L444.2 510.7L450 513.7L457.2 517.6L463.1 521L464.4 521.8L468.5 524.5L471.6 526.7L473.3 527.9L477.8 531.4L478.7 532.1L482.1 534.8L485.9 538.1L490 541.7L493.1 545.1L496.4 548.6L498.1 552.1L498.3 555.5L496.4 559L493.1 561.5L492.1 562.4L486.5 565.9L478.7 568.7L476.5 569.3L471.6 570.5L464.4 571.9L460.1 572.8L457.2 573.3L450 574.6L442.8 575.8L440.6 576.2L435.6 577L428.4 577.7L421.3 578.5L414.1 579.2L409.1 579.7L406.9 579.9L399.7 580.5L392.5 581.2L385.3 581.8L378.1 582.5L371 582.9L366.1 583.1L363.8 583.3L356.6 583.6L349.4 583.9L342.2 584.3L335 584.6L327.8 585L320.7 585.4L313.5 585.4L306.3 585.4L299.1 585.4L291.9 585.4L284.7 585.4L277.5 585.5L270.3 585.5L263.2 585.5L256 585.5L248.8 585.5L241.6 585.5L234.4 585.5L227.2 585.5L220 585.4L212.9 585.4L205.7 585.4L198.5 585.4L191.3 585.4L184.1 585.3L176.9 585.3L169.7 585.1L162.6 584.7L155.4 584.1L148.2 583.4L145.1 583.1L141 582.7L133.8 582.4L129.5 583.1L126.6 583.6L119.4 585.1L113.6 586.6L112.3 586.9L105.1 588.4L102.7 590L98.2 593.5L95.6 596.9L93.6 600.4L97.9 600.4ZM787 548.6L780.6 545.2L778.8 541.7L777.6 538.3L777.1 534.8L777.1 531.4L777.4 527.9L777.8 524.5L778 521L777.8 517.6L777.1 514.1L776 510.7L774.7 507.2L773.4 503.8L772.2 500.3L771.3 496.9L770.9 493.4L770.9 490L771.3 486.5L771.9 483.1L772.6 479.6L773.4 476.8L774.4 472.7L775.4 469.3L776.5 465.8L777.6 462.4L778.9 458.9L780.3 455.5L783.9 452L787.7 448.9L789.8 452L791.9 455.5L793.8 458.9L794.9 460.9L795.2 462.4L795.9 465.8L796.5 469.3L797.1 472.7L797.6 476.2L798.1 479.6L798.5 483.1L798.8 486.5L799.1 490L799.2 493.4L799.1 496.9L798.9 500.3L798.5 503.8L798 507.2L797.4 510.7L796.8 514.1L796.4 517.6L796.1 521L796 524.5L795.9 527.9L795.7 531.4L795.4 534.8L794.9 538.1L793 541.7L790.7 545.2L788 548.6Z"/>
<path fill="#0000bf" fill-rule="evenodd" d="M97.9 600.4L105.1 600.4L112.3 600.4L119.4 600.4L126.6 600.4L133.8 600.4L141 600.4L148.2 600.4L155.4 600.4L162.6 600.4L169.7 600.4L176.9 600.4L184.1 600.4L191.3 600.4L198.5 600.4L205.7 600.4L212.9 600.4L220 600.4L227.2 600.4L234.4 600.4L241.6 600.4L248.8 600.4L256 600.4L263.2 600.4L270.3 600.4L277.5 600.4L284.7 600.4L291.9 600.4L299.1 600.4L306.3 600.4L313.5 600.4L320.7 600.4L327.8 600.4L335 600.4L342.2 600.4L349.4 600.4L356.6 600.4L363.8 600.4L371 600.4L378.1 600.4L385.3 600.4L392.5 600.4L399.7 600.4L406.9 600.4L414.1 600.4L421.3 600.4L428.4 600.4L435.6 600.4L442.8 600.4L450 600.4L457.2 600.4L464.4 600.4L471.6 600.4L478.7 600.4L485.9 600.4L493.1 600.4L500.3 600.4L507.5 600.4L514.7 600.4L521.9 600.4L529 600.4L536.2 600.4L543.4 600.4L550.6 600.4L557.8 600.4L565 600.4L572.2 600.4L579.3 600.4L586.5 600.4L593.7 600.4L600.9 600.4L608.1 600.4L615.3 600.4L622.5 600.4L629.6 600.4L636.8 600.4L644 600.4L651.2 600.4L658.4 600.4L665.6 600.4L672.8 600.4L679.9 600.4L687.1 600.4L694.3 600.4L701.5 600.4L708.7 600.4L715.9 600.4L723.1 600.4L730.2 600.4L737.4 600.4L744.6 600.4L751.8 600.4L759 600.4L766.2 600.4L773.4 600.4L780.6 600.4L787.7 600.4L794.9 600.4L802.1 600.4L809.3 600.4L816.5 600.4L823.7 600.4L830.9 600.4L838 600.4L845.2 600.4L852.4 600.4L859.6 600.4L866.8 600.4L874 600.4L881.2 600.4L888.3 600.4L895.5 600.4L902.7 600.4L909.9 600.4L917.1 600.4L924.3 600.4L931.5 600.4L938.6 600.4L945.8 600.4L953 600.4L960.2 600.4L967.4 600.4L974.6 600.4L981.8 600.4L988.9 600.4L996.1 600.4L1003.3 600.4L1010.5 600.4L1017.7 600.4L1024.9 600.4L1032.1 600.4L1039.2 600.4L1046.4 600.4L1053.6 600.4L1060.8 600.4L1068 600.4L1075.2 600.4L1082.4 600.4L1089.5 600.4L1096.7 600.4L1103.9 600.4L1111.1 600.4L1118.3 600.4L1125.5 600.4L1132.7 600.4L1139.8 600.4L1147 600.4L1154.2 600.4L1161.4 600.4L1168.6 600.4L1175.8 600.4L1183 600.4L1190.1 600.4L1197.3 600.4L1204.5 600.4L1211.7 600.4L1218.9 600.4L1226.1 600.4L1233.3 600.4L1240.5 600.4L1247.6 600.4L1254.8 600.4L1262 600.4L1269.2 600.4L1276.4 600.4L1283.6 600.4L1290.8 600.4L1297.9 600.4L1305.1 600.4L1312.3 600.4L1319.5 600.4L1326.7 600.4L1333.9 600.4L1341.1 600.4L1348.2 600.4L1355.4 600.4L1362.6 600.4L1369.8 600.4L1377 600.4L1384.2 600.4L1389.7 600.4L1384.2 597.7L1382.9 596.9L1377.8 593.5L1374.1 590L1371.6 586.6L1370.3 583.1L1370.2 579.7L1371.3 576.2L1373.5 572.8L1376.9 569.3L1381.5 565.9L1384.2 564.3L1387.2 562.4L1391.4 560.2L1393.7 559L1398.5 556.5L1400.5 555.5L1405.7 552.7L1406.7 552.1L1412.1 548.6L1416.2 545.2L1419.6 541.7L1422.1 538.3L1424 534.8L1425.6 531.4L1426.8 527.9L1427.3 526.2L1427.7 524.5L1428.3 521L1428.8 517.6L1429 514.1L1429.2 510.7L1429.1 507.2L1429 503.8L1428.7 500.3L1428.3 496.9L1427.8 493.4L1427.3 491L1426.2 486.5L1425.2 483.1L1424 479.6L1422.6 476.2L1421 472.7L1420.1 470.9L1419.2 469.3L1417.1 465.8L1414.8 462.4L1412.9 459.9L1412.2 458.9L1409.3 455.5L1406.3 452L1403.3 448.6L1400.1 445.1L1398.5 443.5L1397 441.7L1394 438.2L1391.4 435.6L1390.6 434.8L1387.3 431.3L1384.2 428.6L1383.4 427.9L1379 424.4L1377 423L1373.6 421L1369.8 418.9L1366.3 417.5L1362.6 416.1L1355.4 414.4L1351.5 414.1L1348.2 413.7L1341.1 413.9L1339.5 414.1L1333.9 414.7L1326.7 416.1L1320.4 417.5L1312.3 419L1305.1 419.7L1297.9 420L1290.8 419.9L1283.6 420.1L1277.7 421L1276.4 421.2L1269.2 422.3L1262 421.3L1259.4 421L1254.8 420.4L1247.6 420.6L1243.9 421L1240.5 421.2L1233.3 422L1226.1 422.9L1218.9 424L1216.9 424.4L1211.7 425.3L1204.5 426.7L1199.3 427.9L1197.3 428.3L1190.1 429.9L1184.8 431.3L1183 431.7L1175.8 433.6L1172 434.8L1168.6 435.7L1161.4 437.8L1154.2 440L1149.1 441.7L1147 442.3L1139.8 444.5L1137.9 445.1L1132.7 446.6L1125.5 448.4L1118.3 449.6L1111.1 450.4L1103.9 450L1100.9 448.6L1096.7 446.7L1095.6 445.1L1092.5 441.7L1089.5 439L1086.3 434.8L1082.4 431.4L1077.2 427.9L1075.2 426.7L1068 425.1L1060.8 426.2L1057.5 427.9L1053.6 430.3L1052.2 431.3L1048.4 434.8L1046.4 437.5L1045.6 438.2L1042.1 441.7L1040 445.1L1039.2 446.7L1033.2 448.6L1032.1 449.1L1029.5 445.1L1027.8 441.7L1026.3 438.2L1025 434.8L1024 431.3L1023 427.9L1022 424.4L1020.9 421L1019.7 417.5L1018.3 414.1L1017.7 412.6L1016.6 410.6L1014.6 407.2L1012.5 403.7L1010.5 400.4L1007.1 396.8L1004.3 393.4L1003.3 392L1001.6 389.9L999.4 386.5L997.5 383L996.1 380L994.6 376.1L993.4 372.7L992.2 369.2L991.1 365.8L989.9 362.3L988.9 359.3L987.7 355.4L986.6 352L985.5 348.5L984.3 345.1L983.1 341.6L981.9 338.2L980.7 334.7L979.5 331.3L978.2 327.8L977 324.3L975.7 320.9L974.6 317.9L973.2 314L971.9 310.5L970.7 307.1L969.5 303.6L968.3 300.2L967.4 297.3L966.1 293.3L965 289.8L964 286.4L963.1 282.9L962.3 279.5L961.6 276L961 272.6L960.4 269.1L959.6 265.7L958.9 262.2L958.2 258.8L957.6 255.3L957 251.9L956.5 248.4L956 245L955.5 241.5L955.1 238.1L954.6 234.6L954.1 231.2L953.6 227.7L953.1 224.3L949.3 227.7L945.8 230.9L945 234.6L944.1 238.1L943.3 241.5L942.3 245L941.3 248.4L940.2 251.9L939 255.3L937.5 258.8L935.7 262.2L933.7 265.7L931.5 269.1L924.7 272.6L917.1 270.5L916 269.1L913.7 265.7L911.8 262.2L910.2 258.8L909.1 255.3L908.3 251.9L907.6 248.4L906.9 245L906.3 241.5L905.7 238.1L905.1 234.6L904.5 231.2L904 227.7L903.4 224.3L902.9 220.8L902 217.4L901 213.9L900 210.5L898.9 207L897.9 203.6L896.8 200.1L895.7 196.7L894.2 200.1L893 203.6L891.9 207L890.7 210.5L889.6 213.9L888.5 217.4L887.8 220.8L887.2 224.3L886.6 227.7L885.9 231.2L885.3 234.6L884.6 238.1L883.8 241.5L882.9 245L881.9 248.4L881.2 250.7L880.4 251.9L878 255.3L874.7 258.8L866.8 260.4L861.5 258.8L859.6 258.2L857.2 255.3L854.5 251.9L852.4 249.2L850.6 245L849 241.5L847.2 238.1L845.4 234.6L843.4 231.2L841.2 227.7L838.7 224.3L830.9 220.9L827.8 224.3L824.9 227.7L823.7 229.3L823 231.2L821.8 234.6L820.7 238.1L819.6 241.5L818.7 245L817.8 248.4L817 251.9L816.5 254.3L815.6 258.8L815 262.2L814.4 265.7L813.8 269.1L813.2 272.6L812.6 276L812.1 279.5L811.5 282.9L810.8 286.4L810.2 289.8L809.5 293.3L808.6 296.7L807.5 300.2L806.4 303.6L805.1 307.1L803.8 310.5L802.3 314L799.6 317.4L796.6 320.9L794.9 322.8L790.2 324.3L787.7 325.2L784.3 324.3L780.5 323.5L776.3 320.9L773.4 319.1L771.4 317.4L767.6 314L766.2 312.6L763.5 310.5L759.7 307.1L759 306.3L756.1 307.1L751.8 308.6L751.1 310.5L749.9 314L748.8 317.4L747.7 320.9L746.7 324.3L745.7 327.8L744.8 331.3L744.2 334.7L743.6 338.2L743 341.6L742.5 345.1L742 348.5L741.5 352L741.1 355.4L740.7 358.9L740.3 362.3L740 365.8L739.7 369.2L739.5 372.7L739.2 376.1L739.1 379.6L739 383L738.9 386.5L738.9 389.9L738.9 393.4L739 396.8L739.1 400.3L739.3 403.7L739.5 407.2L739.7 410.6L740 414.1L740.4 417.5L740.8 421L741.2 424.4L741.7 427.9L742.2 431.3L742.7 434.8L743.4 438.2L744 441.7L744.6 444.7L745.7 448.6L746.7 452L747.8 455.5L748.9 458.9L750.1 462.4L751.3 465.8L751.8 467.1L754.2 469.3L758.3 472.7L761.3 469.3L763.5 465.8L765.9 462.4L767.1 458.9L768.2 455.5L769.4 452L770.7 448.6L772.1 445.1L773.4 442.4L775.1 438.2L776.7 434.8L778.5 431.3L780.4 427.9L785.5 424.4L787.7 423L788.7 424.4L791.1 427.9L793.4 431.3L794.9 433.6L796 438.2L796.8 441.7L797.6 445.1L798.3 448.6L799 452L799.6 455.5L800.2 458.9L800.8 462.4L801.4 465.8L801.9 469.3L802.1 471L802.3 472.7L802.6 476.2L802.9 479.6L803.2 483.1L803.4 486.5L803.6 490L803.7 493.4L803.6 496.9L803.5 500.3L803.2 503.8L802.9 507.2L802.5 510.7L802.1 514.1L801.7 517.6L801.5 521L801.4 524.5L801.3 527.9L801.2 531.4L801 534.8L800.5 538.3L799.9 541.7L799.1 545.2L798.1 548.6L797 552.1L795.7 555.5L794.9 557.8L793.9 559L790.8 562.4L787.7 565.7L780.6 563.6L779.5 562.4L776.6 559L774.1 555.5L773.4 554.4L771.7 552.1L769.4 548.6L767.6 545.2L766.3 541.7L765.1 538.3L765.4 534.8L766.2 533.2L766.5 531.4L767.5 527.9L768.5 524.5L769.1 521L769.1 517.6L768.5 514.1L767.3 510.7L766.2 508.3L765.1 507.2L761.5 503.8L759 501.3L751.8 502.1L749.2 503.8L744.6 506L742.6 507.2L737.4 510.2L731.1 514.1L730.2 515.1L727.9 517.6L728.3 521L730.2 522.8L731.9 524.5L736.9 527.9L741.6 531.4L744.6 534.6L746.7 538.3L746.1 541.7L744.6 544L744 545.2L741 548.6L737.5 552.1L733.7 555.5L730.2 558.7L726.1 562.4L723.1 565.4L718.2 569.3L715.9 571L712.7 572.8L708.7 574.6L703.7 576.2L701.5 576.8L694.3 578.1L687.1 579L679.9 579.6L672.8 580L665.6 580.2L658.4 580.1L651.2 579.9L644 579.8L638.9 579.7L636.8 579.6L629.6 578.8L622.5 576.6L617.9 572.8L615.3 570.1L613.2 565.9L611.5 562.4L609.7 559L608.1 556.3L606.2 552.1L604.4 548.6L602.5 545.2L600.9 542.5L598.8 538.3L597 534.8L595.4 531.4L593.7 528.3L590.9 524.5L586.9 521L579.3 518.6L572.2 519L566.6 521L565 521.7L560.5 524.5L557.8 526.4L555.5 527.9L551.2 531.4L545.7 534.8L543.4 536.5L539.2 538.3L536.2 539.9L531.2 541.7L529 543L525.8 545.2L523.2 548.6L521.9 550.8L521.2 552.1L519.3 555.5L517.1 559L514.7 562.3L510.8 565.9L507.5 568L504.6 569.3L500.3 570.7L493.1 572L490.8 572.8L485.9 574.1L478.7 575.7L475.7 576.2L471.6 576.9L464.4 578L457.2 579.2L454 579.7L450 580.3L442.8 581.4L435.6 582.5L428.8 583.1L421.3 583.7L414.1 584.3L406.9 584.9L399.7 585.4L392.5 586L385.9 586.6L378.1 587.1L371 587.4L363.8 587.7L356.6 587.9L349.4 588.2L342.2 588.5L335 588.7L327.8 589L320.7 589.3L313.5 589.3L306.3 589.3L299.1 589.3L291.9 589.3L284.7 589.3L277.5 589.3L270.3 589.3L263.2 589.4L256 589.4L248.8 589.4L241.6 589.4L234.4 589.3L227.2 589.3L220 589.3L212.9 589.3L205.7 589.3L198.5 589.3L191.3 589.3L184.1 589.3L176.9 589.2L169.7 589.1L162.6 588.8L155.4 588.4L148.2 587.9L141 587.4L133.8 587.2L126.6 588.3L119.4 589.7L117.9 590L112.3 591.1L105.1 592.6L103.8 593.5L99 596.9L97.9 597.8L96 600.4L97.9 600.4ZM888.7 510.7L885.6 507.2L885.3 503.8L887.2 500.3L888.3 499.4L895.1 496.9L897.4 496.9L902.7 497.4L908.2 500.3L909.9 502.6L910.4 503.8L909.9 506.5L905.2 510.7L902.7 511.8L895.5 512.5L888.7 510.7ZM514.7 535L518.3 531.4L518.8 527.9L518 524.5L516.2 521L514.7 519.2L513 517.6L508.7 514.1L507.5 513.2L503.2 510.7L500.3 508.8L497.6 507.2L493.1 503.8L488.9 500.3L485.9 496.9L482.9 493.4L480 490L478.7 488.5L476.8 486.5L473.2 483.1L471.6 481.8L468.6 479.6L464.4 477L462.6 476.2L457.2 473.8L453.9 472.7L450 471.6L442.8 470.2L435.6 469.6L428.4 469.9L421.3 471.3L417.7 472.7L414.1 475.1L412.9 476.2L411.4 479.6L411.9 483.1L414.1 486.4L418.6 490L421.3 491.6L424.8 493.4L428.4 495.1L432.6 496.9L435.6 498.1L441 500.3L442.8 501.1L449.4 503.8L457.2 507L464.4 510L466.1 510.7L471.6 513.3L473.4 514.1L478.7 517.4L483.8 521L485.9 522.7L488.2 524.5L492.5 527.9L498.6 531.4L500.3 532.4L507.5 534.8L514.7 535Z"/>
<path fill="#0000c8" fill-rule="evenodd" d="M105.1 600.4L112.3 600.4L119.4 600.4L126.6 600.4L133.8 600.4L141 600.4L148.2 600.4L155.4 600.4L162.6 600.4L169.7 600.4L176.9 600.4L184.1 600.4L191.3 600.4L198.5 600.4L205.7 600.4L212.9 600.4L220 600.4L227.2 600.4L234.4 600.4L241.6 600.4L248.8 600.4L256 600.4L263.2 600.4L270.3 600.4L277.5 600.4L284.7 600.4L291.9 600.4L299.1 600.4L306.3 600.4L313.5 600.4L320.7 600.4L327.8 600.4L335 600.4L342.2 600.4L349.4 600.4L356.6 600.4L363.8 600.4L371 600.4L378.1 600.4L385.3 600.4L392.5 600.4L399.7 600.4L406.9 600.4L414.1 600.4L421.3 600.4L428.4 600.4L435.6 600.4L442.8 600.4L450 600.4L457.2 600.4L464.4 600.4L471.6 600.4L478.7 600.4L485.9 600.4L493.1 600.4L500.3 600.4L507.5 600.4L514.7 600.4L521.9 600.4L529 600.4L536.2 600.4L543.4 600.4L550.6 600.4L557.8 600.4L565 600.4L572.2 600.4L579.3 600.4L586.5 600.4L593.7 600.4L600.9 600.4L608.1 600.4L615.3 600.4L622.5 600.4L629.6 600.4L636.8 600.4L644 600.4L651.2 600.4L658.4 600.4L665.6 600.4L672.8 600.4L679.9 600.4L687.1 600.4L694.3 600.4L701.5 600.4L708.7 600.4L715.9 600.4L723.1 600.4L730.2 600.4L737.4 600.4L744.6 600.4L751.8 600.4L759 600.4L766.2 600.4L773.4 600.4L780.6 600.4L787.7 600.4L794.9 600.4L802.1 600.4L809.3 600.4L816.5 600.4L823.7 600.4L830.9 600.4L838 600.4L845.2 600.4L852.4 600.4L859.6 600.4L866.8 600.4L874 600.4L881.2 600.4L888.3 600.4L895.5 600.4L902.7 600.4L909.9 600.4L917.1 600.4L924.3 600.4L931.5 600.4L938.6 600.4L945.8 600.4L953 600.4L960.2 600.4L967.4 600.4L974.6 600.4L981.8 600.4L988.9 600.4L996.1 600.4L1003.3 600.4L1010.5 600.4L1017.7 600.4L1024.9 600.4L1032.1 600.4L1039.2 600.4L1046.4 600.4L1053.6 600.4L1060.8 600.4L1068 600.4L1075.2 600.4L1082.4 600.4L1089.5 600.4L1096.7 600.4L1103.9 600.4L1111.1 600.4L1118.3 600.4L1125.5 600.4L1132.7 600.4L1139.8 600.4L1147 600.4L1154.2 600.4L1161.4 600.4L1168.6 600.4L1175.8 600.4L1183 600.4L1190.1 600.4L1197.3 600.4L1204.5 600.4L1211.7 600.4L1218.9 600.4L1226.1 600.4L1233.3 600.4L1240.5 600.4L1247.6 600.4L1254.8 600.4L1262 600.4L1269.2 600.4L1276.4 600.4L1283.6 600.4L1290.8 600.4L1297.9 600.4L1305.1 600.4L1312.3 600.4L1319.5 600.4L1326.7 600.4L1333.9 600.4L1341.1 600.4L1348.2 600.4L1355.4 600.4L1361 600.4L1357 596.9L1355.4 595.3L1353.8 593.5L1351.5 590L1350 586.6L1349.3 583.1L1349.5 579.7L1350.6 576.2L1352.6 572.8L1355.4 569.5L1359.5 565.9L1362.6 563.6L1364.3 562.4L1369.8 559.1L1376.4 555.5L1383.3 552.1L1390 548.6L1391.4 547.9L1396.3 545.2L1398.5 543.8L1401.7 541.7L1405.7 538.7L1409.7 534.8L1412.5 531.4L1414.5 527.9L1416.1 524.5L1417.3 521L1418.2 517.6L1418.9 514.1L1419.3 510.7L1419.4 507.2L1419.4 503.8L1419.1 500.3L1418.6 496.9L1417.9 493.4L1417 490L1415.9 486.5L1414.5 483.1L1412.9 479.8L1410.8 476.2L1408.6 472.7L1406.1 469.3L1403.4 465.8L1400.5 462.4L1398.5 460.1L1397.7 458.9L1395.1 455.5L1392.5 452L1391.4 450.6L1390.1 448.6L1387.7 445.1L1385 441.7L1384.2 440.7L1382.2 438.2L1379 434.8L1377 432.9L1375.2 431.3L1370.4 427.9L1363.4 424.4L1355.4 422.2L1348.2 421.7L1341.1 422.3L1333.9 424.1L1326.7 426.7L1323.4 427.9L1319.5 429.4L1312.8 431.3L1305.1 432.4L1297.9 432.6L1290.8 432.5L1283.6 432.7L1277.3 434.8L1269.2 437.6L1262.7 434.8L1254.8 432L1247.6 431.6L1240.5 431.8L1233.3 432.1L1226.1 432.7L1218.9 433.4L1211.7 434.3L1208.4 434.8L1204.5 435.3L1197.3 436.4L1190.1 437.8L1188 438.2L1183 439.2L1175.8 440.8L1172.2 441.7L1168.6 442.5L1161.4 444.3L1158.7 445.1L1154.2 446.3L1147 448.4L1139.8 450.4L1133.9 452L1132.7 452.3L1125.5 453.9L1118.3 455L1112.3 455.5L1110 455.5L1103.9 455L1097.6 452L1094.5 448.6L1091.5 445.1L1089.5 443.2L1088.6 441.7L1086.1 438.2L1082.4 434.8L1078 431.3L1075.2 429.6L1068 427.9L1060.8 429.2L1057.1 431.3L1053.6 433.9L1052.6 434.8L1049.2 438.2L1047 441.7L1046.4 442.9L1044.5 445.1L1042.2 448.6L1040.7 452L1039.5 455.5L1036 458.9L1032.7 462.4L1030.8 462.4L1026.8 458.9L1024.9 456.7L1024.4 455.5L1023.1 452L1022.1 448.6L1021.2 445.1L1020.3 441.7L1019.5 438.2L1018.7 434.8L1017.7 431.3L1016.4 427.9L1014.9 424.4L1013.2 421L1011.4 417.5L1010.5 415.8L1007.9 414.1L1003.4 410.6L996.1 407.4L993.2 403.7L991.1 400.3L989.3 396.8L988.1 393.4L987 389.9L985.9 386.5L984.9 383L983.8 379.6L982.7 376.1L981.8 373.1L980.7 369.2L979.6 365.8L978.6 362.3L977.4 358.9L976.2 355.4L975 352L974.6 350.8L973.8 348.5L972.5 345.1L971.2 341.6L969.9 338.2L968.5 334.7L967.4 332L965.4 327.8L963.8 324.3L962.2 320.9L960.6 317.4L958.4 314L956 310.5L953.7 307.1L953 305.9L945.8 304.5L942.1 307.1L938.6 309.3L936.9 310.5L932 314L924.3 317.2L921.2 317.4L917.1 317.7L915.2 317.4L909.9 316.5L902.9 314L895.5 310.6L888.5 307.1L883 303.6L881.2 302.7L877 300.2L874 298.6L866.8 296.9L859.6 297.9L852.4 299.1L848.8 296.7L845.7 293.3L844.2 289.8L843.2 286.4L842.3 282.9L841.6 279.5L840.9 276L840.2 272.6L839.6 269.1L838.9 265.7L838.1 262.2L836 258.8L833.3 255.3L830.9 252.6L829.8 255.3L828.6 258.8L827.6 262.2L826.6 265.7L825.8 269.1L825.1 272.6L824.5 276L824 279.5L823.7 281.5L823.6 282.9L823.3 286.4L823.1 289.8L822.9 293.3L822.6 296.7L822.2 300.2L821.9 303.6L821.4 307.1L820.8 310.5L820.1 314L819.4 317.4L818.5 320.9L817.4 324.3L816.5 327.3L815.1 331.3L813.9 334.7L812.6 338.2L811.2 341.6L809.9 345.1L809.3 346.5L808.3 348.5L806.7 352L805.2 355.4L803.9 358.9L802.8 362.3L802.1 364.5L801.5 365.8L800.2 369.2L799.1 372.7L798.3 376.1L797.8 379.6L797.5 383L797.3 386.5L797.3 389.9L797.4 393.4L797.6 396.8L797.9 400.3L798.2 403.7L798.6 407.2L799 410.6L799.5 414.1L800 417.5L800.5 421L801 424.4L801.6 427.9L802.1 431.3L802.5 434.8L802.8 438.2L803.2 441.7L803.6 445.1L803.9 448.6L804.3 452L804.6 455.5L805 458.9L805.3 462.4L805.6 465.8L805.9 469.3L806.2 472.7L806.5 476.2L806.7 479.6L807 483.1L807.2 486.5L807.3 490L807.4 493.4L807.4 496.9L807.3 500.3L807.1 503.8L806.8 507.2L806.4 510.7L806.1 514.1L805.8 517.6L805.7 521L805.7 524.5L805.7 527.9L805.6 531.4L805.5 534.8L805.2 538.3L804.8 541.7L804.3 545.2L803.7 548.6L803 552.1L802.2 555.5L801.2 559L800.1 562.4L798.9 565.9L797.5 569.3L796 572.8L794.9 574.8L793.2 576.2L788.5 579.7L780.6 579.8L773.4 576.3L768.1 572.8L766.2 570.9L761.7 569.3L759 568.1L756.6 569.3L751.8 571.8L750.9 572.8L746.7 576.2L744.6 577.5L741.3 579.7L737.4 581.6L733.8 583.1L730.2 584.2L723.1 586.1L720.4 586.6L715.9 587.3L708.7 588L701.5 588.5L694.3 588.9L687.1 589L679.9 589.1L672.8 589.1L665.6 589L658.4 588.7L651.2 588.4L644 588.2L636.8 587.9L629.6 587.3L624.7 586.6L622.5 586.2L615.3 583.4L611.2 579.7L608.5 576.2L607 572.8L605.9 569.3L604.9 565.9L603.8 562.4L602.6 559L601.1 555.5L599.6 552.1L597.9 548.6L596 545.2L594 541.7L591.6 538.3L589 534.8L586.5 531.7L580.5 527.9L579.3 527.3L572.2 527.4L570.8 527.9L565 530.5L563.8 531.4L559.1 534.8L557.8 535.8L554.6 538.3L550.6 541.7L546.2 545.2L543.4 547.8L542.3 548.6L538.3 552.1L536.2 554.3L535 555.5L531.8 559L529.1 562.4L526 565.9L522.5 569.3L517.4 572.8L514.7 574.1L508.1 576.2L500.3 577.4L493.1 577.9L485.9 579.4L484.5 579.7L478.7 580.6L471.6 581.6L464.4 582.6L460.7 583.1L457.2 583.6L450 584.6L442.8 585.7L437.2 586.6L435.6 586.8L428.4 587.3L421.3 587.8L414.1 588.3L406.9 588.8L399.7 589.3L392.5 589.9L390.2 590L385.3 590.3L378.1 590.8L371 591L363.8 591.2L356.6 591.4L349.4 591.5L342.2 591.7L335 591.9L327.8 592.1L320.7 592.3L313.5 592.3L306.3 592.3L299.1 592.4L291.9 592.4L284.7 592.4L277.5 592.4L270.3 592.4L263.2 592.4L256 592.4L248.8 592.4L241.6 592.4L234.4 592.4L227.2 592.4L220 592.4L212.9 592.4L205.7 592.4L198.5 592.3L191.3 592.3L184.1 592.3L176.9 592.3L169.7 592.2L162.6 592L155.4 591.6L148.2 591.3L141 590.9L133.8 590.8L126.6 591.8L119.4 593.1L117.6 593.5L112.3 594.4L105.1 595.8L103.4 596.9L98.6 600.4L105.1 600.4ZM882.5 517.6L881.2 516.9L877.5 514.1L874.7 510.7L874 508.8L873.4 507.2L873.7 503.8L875.4 500.3L878.6 496.9L881.2 495L883.9 493.4L888.3 491.4L895.3 490L898.3 490L902.7 490.1L909.9 491.7L913.8 493.4L917.1 495.5L918.4 496.9L920.5 500.3L921.3 503.8L921.1 507.2L919.7 510.7L917.2 514.1L911.9 517.6L909.9 518.6L902.7 520.5L895.5 520.9L888.3 519.9L882.5 517.6ZM450 487.5L450.8 486.5L444.7 486.5L450 487.5ZM759 404.3L766.2 405.8L766.8 403.7L767.8 400.3L768.7 396.8L769.4 393.4L769.9 389.9L770 386.5L769.8 383L769 379.6L767.5 376.1L766.2 374L764.1 376.1L761.3 379.6L759 383L758.6 386.5L758.4 389.9L758.3 393.4L758.3 396.8L758.5 400.3L758.9 403.7Z"/>
<path fill="#0000d6" fill-rule="evenodd" d="M105.1 600.4L112.3 600.4L119.4 600.4L126.6 600.4L133.8 600.4L141 600.4L148.2 600.4L155.4 600.4L162.6 600.4L169.7 600.4L176.9 600.4L184.1 600.4L191.3 600.4L198.5 600.4L205.7 600.4L212.9 600.4L220 600.4L227.2 600.4L234.4 600.4L241.6 600.4L248.8 600.4L256 600.4L263.2 600.4L270.3 600.4L277.5 600.4L284.7 600.4L291.9 600.4L299.1 600.4L306.3 600.4L313.5 600.4L320.7 600.4L327.8 600.4L335 600.4L342.2 600.4L349.4 600.4L356.6 600.4L363.8 600.4L371 600.4L378.1 600.4L385.3 600.4L392.5 600.4L399.7 600.4L406.9 600.4L414.1 600.4L421.3 600.4L428.4 600.4L435.6 600.4L442.8 600.4L450 600.4L457.2 600.4L464.4 600.4L471.6 600.4L478.7 600.4L485.9 600.4L493.1 600.4L500.3 600.4L507.5 600.4L514.7 600.4L521.9 600.4L529 600.4L536.2 600.4L543.4 600.4L550.6 600.4L557.8 600.4L565 600.4L572.2 600.4L579.3 600.4L586.5 600.4L593.7 600.4L600.9 600.4L608.1 600.4L615.3 600.4L622.5 600.4L629.6 600.4L636.8 600.4L644 600.4L651.2 600.4L658.4 600.4L665.6 600.4L672.8 600.4L679.9 600.4L687.1 600.4L694.3 600.4L701.5 600.4L708.7 600.4L715.9 600.4L723.1 600.4L730.2 600.4L737.4 600.4L744.6 600.4L751.8 600.4L759 600.4L766.2 600.4L773.4 600.4L780.6 600.4L787.7 600.4L794.9 600.4L802.1 600.4L809.3 600.4L816.5 600.4L823.7 600.4L830.9 600.4L838 600.4L845.2 600.4L852.4 600.4L859.6 600.4L866.8 600.4L874 600.4L881.2 600.4L888.3 600.4L895.5 600.4L902.7 600.4L909.9 600.4L917.1 600.4L924.3 600.4L931.5 600.4L938.6 600.4L945.8 600.4L953 600.4L960.2 600.4L967.4 600.4L974.6 600.4L981.8 600.4L988.9 600.4L996.1 600.4L1003.3 600.4L1010.5 600.4L1017.7 600.4L1024.9 600.4L1032.1 600.4L1039.2 600.4L1046.4 600.4L1053.6 600.4L1060.8 600.4L1068 600.4L1075.2 600.4L1082.4 600.4L1089.5 600.4L1096.7 600.4L1103.9 600.4L1111.1 600.4L1118.3 600.4L1125.5 600.4L1132.7 600.4L1139.8 600.4L1147 600.4L1154.2 600.4L1161.4 600.4L1168.6 600.4L1175.8 600.4L1183 600.4L1190.1 600.4L1197.3 600.4L1204.5 600.4L1211.7 600.4L1218.9 600.4L1226.1 600.4L1233.3 600.4L1240.5 600.4L1247.6 600.4L1254.8 600.4L1262 600.4L1269.2 600.4L1276.4 600.4L1283.6 600.4L1290.8 600.4L1297.9 600.4L1305.1 600.4L1312.3 600.4L1319.5 600.4L1326.7 600.4L1333.9 600.4L1337.6 600.4L1334.9 596.9L1333.9 595.3L1332.8 593.5L1331.3 590L1330.4 586.6L1330.3 583.1L1330.8 579.7L1332.1 576.2L1333.9 573.2L1337 569.3L1340.6 565.9L1344.9 562.4L1348.2 560.2L1350 559L1355.4 555.7L1362.1 552.1L1368.8 548.6L1375.6 545.2L1377 544.4L1382 541.7L1384.2 540.4L1387.7 538.3L1391.4 535.8L1392.6 534.8L1396.7 531.4L1398.5 529.6L1400.1 527.9L1402.7 524.5L1404.7 521L1405.7 518.9L1406.3 517.6L1407.4 514.1L1408.1 510.7L1408.5 507.2L1408.6 503.8L1408.4 500.3L1407.9 496.9L1407.1 493.4L1406 490L1404.6 486.5L1402.8 483.1L1400.7 479.6L1398.5 476.5L1395.9 472.7L1393.4 469.3L1391.4 466.5L1388.9 462.4L1386.8 458.9L1384.8 455.5L1384.2 454.5L1382.9 452L1381 448.6L1378.8 445.1L1377 442.7L1376.2 441.7L1373.1 438.2L1369.8 435.2L1363.6 431.3L1362.6 430.8L1355.4 428.6L1348.2 428.1L1341.1 429.2L1334.8 431.3L1327.1 434.8L1319.5 438L1312.3 439.7L1305.1 440.4L1297.9 440.5L1290.8 440.3L1283.6 440.7L1281.1 441.7L1276.4 443.6L1272.7 445.1L1269.2 446.6L1266.3 445.1L1262 443L1259.2 441.7L1254.8 439.7L1247.6 439L1240.5 439L1233.3 439.1L1226.1 439.4L1218.9 439.9L1211.7 440.5L1204.5 441.3L1202.1 441.7L1197.3 442.2L1190.1 443.3L1183 444.6L1180.4 445.1L1175.8 446L1168.6 447.5L1164.4 448.6L1161.4 449.3L1154.2 451.1L1151.1 452L1147 453.1L1139.8 455.1L1138.6 455.5L1132.7 457L1125.5 458.5L1122.8 458.9L1118.3 459.5L1111.1 459.9L1103.9 459.3L1096.7 455.9L1093.9 452L1091.1 448.6L1089.5 447L1088.5 445.1L1086.2 441.7L1083.1 438.2L1079.3 434.8L1075.2 432L1072.4 431.3L1068 430.1L1062.7 431.3L1060.8 431.7L1056.1 434.8L1053.6 437L1052.4 438.2L1049.5 441.7L1047.6 445.1L1046.4 447.9L1043.9 452L1042.4 455.5L1041.2 458.9L1040.3 462.4L1039.5 465.8L1039.2 467.3L1037.6 469.3L1034.8 472.7L1032.1 476L1024.9 473.9L1023.7 472.7L1020.8 469.3L1018.9 465.8L1017.7 462.9L1016.2 458.9L1015.2 455.5L1014.4 452L1013.6 448.6L1012.9 445.1L1012.1 441.7L1011.3 438.2L1010.5 435.5L1009.5 434.8L1004.3 431.3L1003.3 430.6L1002 431.3L997.1 434.8L996.1 435.6L993.4 434.8L988.9 433.2L988.3 431.3L987.2 427.9L986.1 424.4L985.1 421L984 417.5L983 414.1L982 410.6L981.2 407.2L980.5 403.7L979.8 400.3L979 396.8L978.2 393.4L977.3 389.9L976.4 386.5L975.4 383L974.6 380.1L973.5 376.1L972.4 372.7L971.3 369.2L970.2 365.8L969 362.3L967.6 358.9L966.2 355.4L964.6 352L963 348.5L961.2 345.1L960.2 343L959 341.6L956 338.2L953 334.8L945.8 333.6L943.6 334.7L938.6 337.2L937.2 338.2L931.9 341.6L924.3 344.9L917.1 345.9L909.9 345.5L907.5 345.1L902.7 344.2L895.8 341.6L891.2 338.2L888.3 336.1L887.1 334.7L883.9 331.3L881.2 328.6L880.3 327.8L876.6 324.3L874 322.1L870.1 320.9L866.8 319.8L864 320.9L859.6 322.7L857.5 324.3L853.8 327.8L852.4 329.3L849.9 331.3L846.2 334.7L845.2 335.7L839.8 338.2L838 339L832.7 341.6L830.9 342.6L828.8 345.1L826 348.5L823.7 351.4L821.6 355.4L819.8 358.9L818.1 362.3L816.6 365.8L815.2 369.2L813.9 372.7L812.8 376.1L811.8 379.6L810.9 383L810.2 386.5L809.5 389.9L809.3 391.5L809 393.4L808.5 396.8L808.1 400.3L807.8 403.7L807.6 407.2L807.4 410.6L807.3 414.1L807.3 417.5L807.3 421L807.4 424.4L807.5 427.9L807.6 431.3L807.8 434.8L807.9 438.2L808.1 441.7L808.3 445.1L808.5 448.6L808.7 452L808.9 455.5L809.2 458.9L809.3 460.9L809.4 462.4L809.6 465.8L809.8 469.3L810.1 472.7L810.3 476.2L810.5 479.6L810.8 483.1L811 486.5L811.1 490L811.2 493.4L811.2 496.9L811.1 500.3L810.9 503.8L810.7 507.2L810.4 510.7L810.1 514.1L809.9 517.6L809.8 521L809.8 524.5L809.8 527.9L809.8 531.4L809.7 534.8L809.5 538.3L809.3 541.1L808.8 545.2L808.4 548.6L807.8 552.1L807.2 555.5L806.6 559L805.9 562.4L805.2 565.9L804.4 569.3L803.5 572.8L802.3 576.2L800.4 579.7L798 583.1L794.9 586.4L787.7 589.4L780.6 589.4L773.4 588.2L766.2 587.1L759 587.3L751.8 588.6L745.7 590L737.4 591.6L730.2 592.7L724.2 593.5L715.9 594.1L708.7 594.4L701.5 594.6L694.3 594.7L687.1 594.7L679.9 594.6L672.8 594.4L665.6 594.3L658.4 594L651.2 593.8L644 593.5L636.8 593.2L629.6 592.7L622.5 591.8L615.3 590.1L608.2 586.6L605.1 583.1L603 579.7L601.4 576.2L600.9 574.7L600.4 572.8L599.5 569.3L598.7 565.9L597.8 562.4L596.8 559L595.5 555.5L593.9 552.1L591.9 548.6L589.6 545.2L586.9 541.7L582.6 538.3L579.3 536.1L572.2 535.5L565.5 538.3L560.5 541.7L557.8 543.8L556.2 545.2L552.5 548.6L550.6 550.6L549 552.1L545.8 555.5L543.4 558.6L540.3 562.4L537.8 565.9L536.2 568.1L535.2 569.3L532 572.8L529 575.2L527.4 576.2L521.9 578.8L519 579.7L514.7 580.7L507.5 581.7L500.3 582.2L493.1 582.2L488.2 583.1L485.9 583.5L478.7 584.5L471.6 585.4L464.4 586.3L462.2 586.6L457.2 587.3L450 588.2L442.8 589.3L437.6 590L435.6 590.3L428.4 590.8L421.3 591.2L414.1 591.6L406.9 592.1L399.7 592.5L392.5 593L385.3 593.4L378.1 593.8L371 594L363.8 594.1L356.6 594.2L349.4 594.3L342.2 594.5L335 594.6L327.8 594.7L320.7 594.8L313.5 594.8L306.3 594.8L299.1 594.8L291.9 594.9L284.7 594.9L277.5 594.9L270.3 594.9L263.2 594.9L256 594.9L248.8 594.9L241.6 594.9L234.4 594.9L227.2 594.9L220 594.9L212.9 594.9L205.7 594.9L198.5 594.8L191.3 594.8L184.1 594.8L176.9 594.8L169.7 594.7L162.6 594.6L155.4 594.3L148.2 594L141 593.8L133.8 593.7L126.6 594.6L119.4 595.8L113.6 596.9L112.3 597.2L105.1 598.4L102.1 600.4L105.1 600.4ZM886.5 527.9L881.2 526.4L877.1 524.5L874 522.8L871.2 521L867.1 517.6L864.2 514.1L862.4 510.7L861.8 507.2L862.3 503.8L864.3 500.3L866.8 498L867.8 496.9L872.6 493.4L874 492.7L878.4 490L881.2 488.6L886.3 486.5L888.3 485.8L895.5 484.4L902.7 484.4L909.9 485.4L913.8 486.5L917.1 487.7L920.8 490L924.3 492.8L926.8 496.9L928.1 500.3L928.6 503.8L928.5 507.2L927.7 510.7L926.3 514.1L924.4 517.6L920.9 521L917.1 524.2L909.9 527.3L906.9 527.9L902.7 528.9L895.5 529.3L888.3 528.5L886.5 527.9Z"/>
<path fill="#0000df" fill-rule="evenodd" d="M112.3 600.4L119.4 600.4L126.6 600.4L133.8 600.4L141 600.4L148.2 600.4L155.4 600.4L162.6 600.4L169.7 600.4L176.9 600.4L184.1 600.4L191.3 600.4L198.5 600.4L205.7 600.4L212.9 600.4L220 600.4L227.2 600.4L234.4 600.4L241.6 600.4L248.8 600.4L256 600.4L263.2 600.4L270.3 600.4L277.5 600.4L284.7 600.4L291.9 600.4L299.1 600.4L306.3 600.4L313.5 600.4L320.7 600.4L327.8 600.4L335 600.4L342.2 600.4L349.4 600.4L356.6 600.4L363.8 600.4L371 600.4L378.1 600.4L385.3 600.4L392.5 600.4L399.7 600.4L406.9 600.4L414.1 600.4L421.3 600.4L428.4 600.4L435.6 600.4L442.8 600.4L450 600.4L457.2 600.4L464.4 600.4L471.6 600.4L478.7 600.4L485.9 600.4L493.1 600.4L500.3 600.4L507.5 600.4L514.7 600.4L521.9 600.4L529 600.4L536.2 600.4L543.4 600.4L550.6 600.4L557.8 600.4L565 600.4L572.2 600.4L579.3 600.4L586.5 600.4L593.7 600.4L600.9 600.4L608.1 600.4L615.3 600.4L622.5 600.4L629.6 600.4L636.8 600.4L644 600.4L651.2 600.4L658.4 600.4L665.6 600.4L672.8 600.4L679.9 600.4L687.1 600.4L694.3 600.4L701.5 600.4L708.7 600.4L715.9 600.4L723.1 600.4L730.2 600.4L737.4 600.4L744.6 600.4L751.8 600.4L759 600.4L766.2 600.4L773.4 600.4L780.6 600.4L787.7 600.4L794.9 600.4L802.1 600.4L809.3 600.4L816.5 600.4L823.7 600.4L830.9 600.4L838 600.4L845.2 600.4L852.4 600.4L859.6 600.4L866.8 600.4L874 600.4L881.2 600.4L888.3 600.4L895.5 600.4L902.7 600.4L909.9 600.4L917.1 600.4L924.3 600.4L931.5 600.4L938.6 600.4L945.8 600.4L953 600.4L960.2 600.4L967.4 600.4L974.6 600.4L981.8 600.4L988.9 600.4L996.1 600.4L1003.3 600.4L1010.5 600.4L1017.7 600.4L1024.9 600.4L1032.1 600.4L1039.2 600.4L1046.4 600.4L1053.6 600.4L1060.8 600.4L1068 600.4L1075.2 600.4L1082.4 600.4L1089.5 600.4L1096.7 600.4L1103.9 600.4L1111.1 600.4L1118.3 600.4L1125.5 600.4L1132.7 600.4L1139.8 600.4L1147 600.4L1154.2 600.4L1161.4 600.4L1168.6 600.4L1175.8 600.4L1183 600.4L1190.1 600.4L1197.3 600.4L1204.5 600.4L1211.7 600.4L1218.9 600.4L1226.1 600.4L1233.3 600.4L1240.5 600.4L1247.6 600.4L1254.8 600.4L1262 600.4L1269.2 600.4L1276.4 600.4L1283.6 600.4L1290.8 600.4L1297.9 600.4L1305.1 600.4L1312.3 600.4L1314.6 600.4L1313 596.9L1312.3 595.1L1311.7 593.5L1310.9 590L1310.7 586.6L1311.1 583.1L1312.1 579.7L1313.9 576.2L1316.3 572.8L1319.4 569.3L1323.2 565.9L1326.7 563.1L1332.3 559L1333.9 557.9L1337.6 555.5L1341.1 553.4L1343.3 552.1L1348.2 549.3L1349.5 548.6L1355.4 545.5L1362.6 541.7L1369 538.3L1374.9 534.8L1377 533.5L1380 531.4L1384.2 528.2L1388 524.5L1390.9 521L1393.2 517.6L1394.9 514.1L1396.1 510.7L1396.8 507.2L1397.1 503.8L1397 500.3L1396.5 496.9L1395.6 493.4L1394.3 490L1392.7 486.5L1391.4 484L1388.8 479.6L1386.7 476.2L1384.6 472.7L1382.8 469.3L1381.2 465.8L1379.7 462.4L1378.3 458.9L1377 456L1375.2 452L1373.3 448.6L1371.1 445.1L1369.8 443.6L1368 441.7L1363.8 438.2L1362.6 437.4L1356.1 434.8L1348.2 434L1344.5 434.8L1341.1 435.5L1334.5 438.2L1327.5 441.7L1319.5 444.6L1316.8 445.1L1312.3 445.8L1305.1 446.1L1297.9 446L1290.8 445.8L1283.6 446.4L1278.5 448.6L1276.4 449.5L1270.7 452L1269.2 452.7L1267.9 452L1262 449.1L1260.9 448.6L1254.8 445.5L1251.5 445.1L1247.6 444.6L1240.5 444.4L1233.3 444.4L1226.1 444.6L1218.9 444.9L1215.6 445.1L1211.7 445.4L1204.5 445.9L1197.3 446.7L1190.1 447.7L1184.7 448.6L1183 448.8L1175.8 450.1L1168.6 451.6L1166.9 452L1161.4 453.3L1154.2 455.2L1147 457.2L1141 458.9L1132.7 461.2L1127.1 462.4L1125.5 462.7L1118.3 463.7L1111.1 463.9L1103.9 463.3L1101.9 462.4L1096.7 459.9L1096 458.9L1093.6 455.5L1090.9 452L1089.5 450.5L1088.6 448.6L1086.6 445.1L1083.9 441.7L1082.4 440.1L1080.5 438.2L1076.1 434.8L1075.2 434.1L1068 432.2L1060.8 433.9L1059.5 434.8L1055.1 438.2L1053.6 439.8L1052 441.7L1049.6 445.1L1047.9 448.6L1046.7 452L1045.2 455.5L1043.9 458.9L1042.9 462.4L1042.1 465.8L1041.5 469.3L1040.9 472.7L1040.3 476.2L1039.7 479.6L1039.2 482.1L1038.4 483.1L1035 486.5L1032.1 488.8L1024.9 487.9L1021.7 486.5L1017.7 484.4L1015.4 483.1L1010.7 479.6L1003.3 476.6L996.1 476.3L988.9 472.8L986.9 469.3L985.2 465.8L983.8 462.4L982.4 458.9L981.8 457L981.5 455.5L980.8 452L980.3 448.6L979.7 445.1L979.2 441.7L978.7 438.2L978.1 434.8L977.6 431.3L977.1 427.9L976.5 424.4L975.9 421L975.3 417.5L974.6 414.1L974 410.6L973.4 407.2L972.8 403.7L972 400.3L971.3 396.8L970.4 393.4L969.5 389.9L968.6 386.5L967.6 383L966.4 379.6L965.1 376.1L963.7 372.7L962.3 369.2L960.7 365.8L960.2 364.7L958.3 362.3L955.5 358.9L953 356L949.1 355.4L945.8 354.9L938.8 358.9L934 362.3L931.5 364.3L928.6 365.8L924.3 368L917.7 369.2L913.7 369.2L909.9 369.1L902.7 367.9L897.9 365.8L895.5 364.7L893.1 362.3L889.4 358.9L888.3 357.9L886.6 355.4L884.1 352L881.3 348.5L878.5 345.1L875.4 341.6L874 340.2L868.8 338.2L866.8 337.4L865.4 338.2L859.6 341.4L856.4 345.1L853.8 348.5L852.4 350.5L851.1 352L848.4 355.4L845.9 358.9L845.2 359.8L841.8 362.3L838 365.2L837 365.8L831.2 369.2L828.1 372.7L825.3 376.1L823.7 378.2L823 379.6L821.5 383L820.1 386.5L818.8 389.9L817.7 393.4L816.7 396.8L815.9 400.3L815.3 403.7L814.7 407.2L814.2 410.6L813.8 414.1L813.5 417.5L813.3 421L813.1 424.4L812.9 427.9L812.9 431.3L812.8 434.8L812.8 438.2L812.8 441.7L812.8 445.1L812.9 448.6L813 452L813.1 455.5L813.2 458.9L813.4 462.4L813.5 465.8L813.7 469.3L813.9 472.7L814.1 476.2L814.3 479.6L814.5 483.1L814.7 486.5L814.9 490L815 493.4L815.1 496.9L815 500.3L814.9 503.8L814.7 507.2L814.4 510.7L814.2 514.1L814 517.6L813.9 521L813.9 524.5L814 527.9L814 531.4L814 534.8L813.9 538.3L813.7 541.7L813.4 545.2L813.1 548.6L812.7 552.1L812.3 555.5L811.8 559L811.4 562.4L810.8 565.9L810.2 569.3L809.5 572.8L808.6 576.2L807.4 579.7L805.9 583.1L803.8 586.6L802.1 588.7L800.7 590L795.8 593.5L787.7 595.8L780.6 595.8L773.4 595.2L766.2 594.7L759 594.9L751.8 595.7L744.6 596.7L742.4 596.9L737.4 597.5L730.2 598.1L723.1 598.5L715.9 598.8L708.7 598.9L701.5 599L694.3 598.9L687.1 598.8L679.9 598.6L672.8 598.4L665.6 598.2L658.4 597.9L651.2 597.6L644 597.4L636.8 597.1L634.1 596.9L629.6 596.7L622.5 595.9L615.3 594.7L611.2 593.5L608.1 592.3L604.5 590L600.9 586.9L598.2 583.1L596.6 579.7L595.5 576.2L594.7 572.8L594 569.3L593.2 565.9L592.3 562.4L591.1 559L589.6 555.5L587.8 552.1L586.5 550.1L585.1 548.6L581.1 545.2L579.3 543.9L572.2 542.9L566.5 545.2L565 545.8L561.4 548.6L557.8 551.8L554.4 555.5L551.8 559L550.6 560.8L549.4 562.4L547.3 565.9L545.4 569.3L543.4 572.7L540.6 576.2L536.6 579.7L529 583L521.9 584.5L514.7 585.4L507.5 585.8L500.3 585.9L493.1 585.8L487.8 586.6L485.9 586.8L478.7 587.7L471.6 588.5L464.4 589.4L459.6 590L457.2 590.3L450 591.3L442.8 592.2L435.6 593.3L432.5 593.5L428.4 593.7L421.3 594.1L414.1 594.5L406.9 594.8L399.7 595.2L392.5 595.6L385.3 596L378.1 596.4L371 596.5L363.8 596.5L356.6 596.6L349.4 596.7L342.2 596.8L335 596.9L331.7 596.9L327.8 597L320.7 597.1L313.5 597.1L306.3 597.1L299.1 597.1L291.9 597.1L284.7 597.1L277.5 597.1L270.3 597.1L263.2 597.1L256 597.1L248.8 597.1L241.6 597.1L234.4 597.1L227.2 597.1L220 597.1L212.9 597.1L205.7 597.1L198.5 597.1L191.3 597.1L184.1 597.1L176.9 597L169.7 597L162.6 596.8L155.4 596.6L148.2 596.3L141 596.1L133.8 596L127.2 596.9L119.4 598.1L112.3 599.3L106.7 600.4L112.3 600.4ZM881.3 541.7L874 538.4L867.4 534.8L863 531.4L859.6 528.2L857.2 524.5L855.2 521L853.5 517.6L852.4 514.8L851.5 510.7L851.3 507.2L851.5 503.8L852.3 500.3L854.6 496.9L858.6 493.4L859.6 492.8L865.9 490L873.7 486.5L881 483.1L888.3 480.2L891.5 479.6L895.5 478.8L902.7 478.5L909.9 479.1L912.1 479.6L917.1 480.8L921.9 483.1L924.3 484.4L926.6 486.5L929.7 490L931.5 492.6L933.3 496.9L934.1 500.3L934.5 503.8L934.4 507.2L933.9 510.7L933 514.1L931.8 517.6L930 521L927.9 524.5L925.6 527.9L924.3 530L922.7 531.4L919.2 534.8L917.1 537.1L914.8 538.3L909.9 541.3L908.3 541.7L902.7 543.7L895.5 544.5L888.3 543.9L881.3 541.7Z"/>
<path fill="#0000ed" fill-rule="evenodd" d="M119.4 600.4L126.6 600.4L133.8 600.4L141 600.4L148.2 600.4L155.4 600.4L162.6 600.4L169.7 600.4L176.9 600.4L184.1 600.4L191.3 600.4L198.5 600.4L205.7 600.4L212.9 600.4L220 600.4L227.2 600.4L234.4 600.4L241.6 600.4L248.8 600.4L256 600.4L263.2 600.4L270.3 600.4L277.5 600.4L284.7 600.4L291.9 600.4L299.1 600.4L306.3 600.4L313.5 600.4L320.7 600.4L327.8 600.4L335 600.4L342.2 600.4L349.4 600.4L356.6 600.4L363.8 600.4L371 600.4L378.1 600.4L385.3 600.4L392.5 600.4L399.7 600.4L406.9 600.4L414.1 600.4L421.3 600.4L428.4 600.4L435.6 600.4L442.8 600.4L450 600.4L457.2 600.4L464.4 600.4L471.6 600.4L478.7 600.4L485.9 600.4L493.1 600.4L500.3 600.4L507.5 600.4L514.7 600.4L521.9 600.4L529 600.4L536.2 600.4L543.4 600.4L550.6 600.4L557.8 600.4L565 600.4L572.2 600.4L579.3 600.4L586.5 600.4L593.7 600.4L600.9 600.4L608.1 600.4L615.3 600.4L622.5 600.4L629.6 600.4L636.8 600.4L639.7 600.4L636.8 600.3L629.6 599.9L622.5 599.2L615.3 598.2L609.4 596.9L608.1 596.6L601.8 593.5L597.2 590L594 586.6L591.8 583.1L590.4 579.7L589.4 576.2L588.7 572.8L588.1 569.3L587.4 565.9L586.5 562.6L584.7 559L582.4 555.5L579.4 552.1L572.2 550.5L568.6 552.1L565 553.9L563.2 555.5L560.2 559L557.8 562.2L555.8 565.9L554.2 569.3L552.7 572.8L551.1 576.2L548.7 579.7L544.8 583.1L543.4 583.9L536.7 586.6L529 588L521.9 588.7L514.7 589L507.5 589.1L500.3 589L493.1 588.7L485.9 589.7L483.1 590L478.7 590.5L471.6 591.3L464.4 592L457.2 593L453.5 593.5L450 593.9L442.8 594.8L435.6 595.8L428.4 596.2L421.3 596.6L414.5 596.9L406.9 597.3L399.7 597.6L392.5 597.9L385.3 598.2L378.1 598.5L371 598.6L363.8 598.6L356.6 598.6L349.4 598.7L342.2 598.7L335 598.8L327.8 598.8L320.7 598.8L313.5 598.8L306.3 598.8L299.1 598.8L291.9 598.8L284.7 598.8L277.5 598.8L270.3 598.8L263.2 598.8L256 598.8L248.8 598.8L241.6 598.8L234.4 598.8L227.2 598.8L220 598.8L212.9 598.8L205.7 598.8L198.5 598.8L191.3 598.8L184.1 598.8L176.9 598.8L169.7 598.7L162.6 598.6L155.4 598.4L148.2 598.2L141 598.1L133.8 598L126.6 598.9L119.4 600.1L117.9 600.4L119.4 600.4ZM759 600.4L766.2 600.4L773.1 600.4L766.2 600.1L759 600.2L756.5 600.4L759 600.4ZM794.9 600.4L802.1 600.4L809.3 600.4L816.5 600.4L823.7 600.4L830.9 600.4L838 600.4L845.2 600.4L852.4 600.4L859.6 600.4L866.8 600.4L874 600.4L881.2 600.4L888.3 600.4L895.5 600.4L902.7 600.4L909.9 600.4L917.1 600.4L924.3 600.4L931.5 600.4L938.6 600.4L945.8 600.4L953 600.4L960.2 600.4L967.4 600.4L974.6 600.4L981.8 600.4L988.9 600.4L996.1 600.4L1003.3 600.4L1010.5 600.4L1017.7 600.4L1024.9 600.4L1032.1 600.4L1039.2 600.4L1046.4 600.4L1052.9 600.4L1050.8 596.9L1050 593.5L1050.3 590L1051.2 586.6L1052.6 583.1L1053.6 581.2L1054.6 579.7L1057.1 576.2L1059.8 572.8L1060.8 571.7L1064 569.3L1068 567L1074.7 565.9L1082.4 567L1089.5 569.2L1096.7 572.6L1102.5 576.2L1103.9 577.5L1106.4 579.7L1108.8 583.1L1109.8 586.6L1109.7 590L1108.4 593.5L1106.1 596.9L1103.9 599.2L1102.5 600.4L1111.1 600.4L1118.3 600.4L1125.5 600.4L1132.7 600.4L1139.8 600.4L1147 600.4L1154.2 600.4L1161.4 600.4L1168.6 600.4L1175.8 600.4L1183 600.4L1190.1 600.4L1197.3 600.4L1204.5 600.4L1211.7 600.4L1218.9 600.4L1226.1 600.4L1233.3 600.4L1240.5 600.4L1247.6 600.4L1254.8 600.4L1262 600.4L1269.2 600.4L1276.4 600.4L1283.6 600.4L1288.3 600.4L1287.6 596.9L1287.3 593.5L1287.4 590L1288.1 586.6L1289.6 583.1L1290.8 581.3L1291.6 579.7L1294.4 576.2L1297.8 572.8L1301.7 569.3L1305.1 566.7L1306.1 565.9L1310.9 562.4L1312.3 561.5L1315.9 559L1319.5 556.6L1321.2 555.5L1326.6 552.1L1332.3 548.6L1333.9 547.7L1338.2 545.2L1341.1 543.5L1344.3 541.7L1348.2 539.5L1350.4 538.3L1355.4 535.5L1356.6 534.8L1362.4 531.4L1367.7 527.9L1369.8 526.4L1372.3 524.5L1376.1 521L1377 520.1L1379.1 517.6L1381.4 514.1L1383.1 510.7L1384.2 507.6L1384.8 503.8L1384.9 500.3L1384.5 496.9L1383.6 493.4L1382.4 490L1380.9 486.5L1379.3 483.1L1377.7 479.6L1377 478.1L1376.2 476.2L1374.9 472.7L1373.8 469.3L1372.7 465.8L1371.7 462.4L1370.7 458.9L1369.8 456.4L1367.8 452L1365.6 448.6L1362.8 445.1L1357 441.7L1355.4 440.9L1348.2 440.2L1341.9 441.7L1334.1 445.1L1326.7 448.3L1319.5 450L1312.3 450.6L1305.1 450.6L1297.9 450.4L1290.8 450.2L1283.6 450.9L1281 452L1276.4 454.1L1273.4 455.5L1269.2 457.3L1265.2 455.5L1262 453.9L1258.4 452L1254.8 450.2L1247.6 449.1L1240.5 448.9L1233.3 448.8L1226.1 448.8L1218.9 448.9L1211.7 449.2L1204.5 449.7L1197.3 450.4L1190.1 451.3L1185.4 452L1183 452.4L1175.8 453.6L1168.6 455.1L1167 455.5L1161.4 456.8L1154.2 458.8L1147 460.9L1142.1 462.4L1139.8 463.1L1132.7 465.1L1129.5 465.8L1125.5 466.7L1118.3 467.6L1111.1 467.8L1103.9 467.1L1101.1 465.8L1096.7 463.8L1095.7 462.4L1093.3 458.9L1090.8 455.5L1089.5 454L1088.7 452L1086.9 448.6L1084.6 445.1L1082.4 442.5L1081.6 441.7L1078.1 438.2L1075.2 436.1L1070.6 434.8L1068 434L1065.1 434.8L1060.8 435.9L1057.7 438.2L1054.3 441.7L1051.6 445.1L1049.6 448.6L1048.2 452L1047.2 455.5L1046.5 458.9L1045.4 462.4L1044.7 465.8L1044.1 469.3L1043.7 472.7L1043.4 476.2L1043.2 479.6L1043.1 483.1L1042.9 486.5L1042.6 490L1042.1 493.4L1041.2 496.9L1039.5 500.3L1032.1 502.6L1024.9 501.5L1020.6 500.3L1017.7 499.5L1010.5 497.8L1003.3 497L996.1 496.9L988.9 496.1L984.5 493.4L981.8 491.3L981.1 490L979.5 486.5L978.3 483.1L977.3 479.6L976.5 476.2L975.8 472.7L975.1 469.3L974.6 465.9L974.2 462.4L973.8 458.9L973.4 455.5L973.1 452L972.7 448.6L972.3 445.1L972 441.7L971.6 438.2L971.2 434.8L970.8 431.3L970.3 427.9L969.8 424.4L969.3 421L968.7 417.5L968.1 414.1L967.5 410.6L966.7 407.2L965.9 403.7L965 400.3L964 396.8L962.9 393.4L961.8 389.9L960.5 386.5L958.5 383L956.2 379.6L953.7 376.1L953 375.2L945.8 374.2L942.9 376.1L938.6 379.2L934.6 383L931.5 386.2L926.3 389.9L924.3 391.5L917.2 393.4L909.9 393.1L902.7 391.6L899.9 389.9L895.5 387.5L894.8 386.5L892.1 383L889.2 379.6L888.3 378.6L887 376.1L885.1 372.7L883 369.2L881.2 366.3L878.5 362.3L876 358.9L874 356.2L872.2 355.4L866.8 352.9L863.1 355.4L859.6 357.9L858.9 358.9L856.5 362.3L854.4 365.8L852.4 369.2L850.1 372.7L847.9 376.1L845.8 379.6L845.2 380.6L842.3 383L838.1 386.5L832.9 389.9L830.9 391.3L829.4 393.4L827.2 396.8L825.1 400.3L823.7 403L822.4 407.2L821.5 410.6L820.8 414.1L820.1 417.5L819.5 421L819 424.4L818.6 427.9L818.3 431.3L818 434.8L817.8 438.2L817.6 441.7L817.5 445.1L817.5 448.6L817.4 452L817.4 455.5L817.5 458.9L817.6 462.4L817.7 465.8L817.9 469.3L818.1 472.7L818.3 476.2L818.6 479.6L818.9 483.1L819.2 486.5L819.5 490L819.7 493.4L819.8 496.9L819.8 500.3L819.7 503.8L819.5 507.2L819.2 510.7L818.9 514.1L818.8 517.6L818.7 521L818.8 524.5L818.9 527.9L819 531.4L819 534.8L819 538.3L818.8 541.7L818.6 545.2L818.3 548.6L818 552.1L817.6 555.5L817.3 559L816.9 562.4L816.5 565.9L816.1 569.3L815.6 572.8L815 576.2L814.1 579.7L812.9 583.1L811.2 586.6L809.3 589.4L805.6 593.5L802.1 596.3L801 596.9L794.9 599.6L790.7 600.4L794.9 600.4ZM864.1 579.7L859.6 577.1L858.8 576.2L856.5 572.8L854.6 569.3L853.2 565.9L852.4 563.6L851.6 559L851.1 555.5L850.6 552.1L850.2 548.6L849.7 545.2L849.3 541.7L848.7 538.3L848.2 534.8L847.6 531.4L846.9 527.9L846.2 524.5L845.5 521L844.8 517.6L844.1 514.1L843.7 510.7L843.4 507.2L843.5 503.8L844 500.3L844.9 496.9L846.6 493.4L849.1 490L852.4 486.9L859.6 484.6L866.8 483.1L874 480.5L875.8 479.6L881.2 477L883.2 476.2L888.3 473.8L892.4 472.7L895.5 471.7L902.7 471L909.9 471.2L917.1 472.5L924.3 475.6L928.8 479.6L931.5 482.2L934.4 486.5L936.3 490L937.8 493.4L938.6 496.1L939.7 500.3L940 503.8L939.9 507.2L939.5 510.7L938.8 514.1L937.8 517.6L936.6 521L935.4 524.5L934 527.9L932.8 531.4L931.6 534.8L930.4 538.3L929.2 541.7L928.2 545.2L927.4 548.6L926.7 552.1L925.9 555.5L925.2 559L924.3 562.4L922.5 565.9L920.2 569.3L917.4 572.8L911 576.2L909.9 576.7L902.7 578.3L895.5 579.3L891.2 579.7L888.3 579.9L881.2 580.4L874 580.8L866.8 581L864.1 579.7Z"/>
<path fill="#0000fa" fill-rule="evenodd" d="M133.8 600.4L141 600.4L148.2 600.4L155.4 600.4L162.6 600.4L155.4 600.2L148.2 600L141 599.8L133.8 599.8L129.4 600.4L133.8 600.4ZM385.3 600.4L392.5 600.4L399.7 600.4L406.9 600.4L414.1 600.4L421.3 600.4L428.4 600.4L435.6 600.4L442.8 600.4L450 600.4L457.2 600.4L464.4 600.4L471.6 600.4L478.7 600.4L485.9 600.4L493.1 600.4L500.3 600.4L507.5 600.4L514.7 600.4L521.9 600.4L529 600.4L536.2 600.4L543.4 600.4L550.6 600.4L557.8 600.4L565 600.4L572.2 600.4L579.3 600.4L586.5 600.4L593.7 600.4L600.9 600.4L608.1 600.4L610.5 600.4L608.1 599.9L600.9 597.1L594.5 593.5L590.1 590L587.1 586.6L586.5 585.6L584.7 583.1L583 579.7L582 576.2L581.2 572.8L580.4 569.3L579.4 565.9L575.2 562.4L572.2 560.9L569.9 562.4L565.8 565.9L565 566.7L563.8 569.3L562.5 572.8L561.1 576.2L559.2 579.7L557.8 581.4L556.5 583.1L552.2 586.6L550.6 587.4L543.4 590L536.2 591.1L529 591.7L521.9 592L514.7 592L507.5 591.9L500.3 591.6L493.1 591.3L485.9 592.1L478.7 593L473.9 593.5L471.6 593.7L464.4 594.4L457.2 595.3L450 596.2L444.9 596.9L442.8 597.2L435.6 598.1L428.4 598.4L421.3 598.7L414.1 599.1L406.9 599.4L399.7 599.7L392.5 600L385.3 600.3L383 600.4L385.3 600.4ZM809.3 600.4L816.5 600.4L823.7 600.4L830.9 600.4L838 600.4L845.2 600.4L852.4 600.4L859.6 600.4L866.8 600.4L874 600.4L881.2 600.4L888.3 600.4L895.5 600.4L902.7 600.4L909.9 600.4L917.1 600.4L924.3 600.4L931.5 600.4L938.6 600.4L945.8 600.4L953 600.4L960.2 600.4L967.4 600.4L974.6 600.4L981.8 600.4L988.9 600.4L996.1 600.4L1003.3 600.4L1010.5 600.4L1017.7 600.4L1021 600.4L1020.2 596.9L1020.4 593.5L1021.5 590L1023.2 586.6L1024.9 583.9L1027.6 579.7L1029.9 576.2L1032.1 573.2L1034.6 569.3L1036.9 565.9L1039.1 562.4L1041.3 559L1043.5 555.5L1045.7 552.1L1046.4 550.9L1048.3 548.6L1051.1 545.2L1053.6 542.1L1055.2 541.7L1060.8 540.8L1062.1 541.7L1068 544.1L1069.4 545.2L1075.2 548.1L1082.4 552.1L1089 555.5L1096.4 559L1103.9 562.3L1111.1 565.2L1113.2 565.9L1118.3 567.9L1122.6 569.3L1125.5 570.5L1132 572.8L1139.8 576L1147 579.4L1153.6 583.1L1157.7 586.6L1160 590L1160.7 593.5L1160 596.9L1158.2 600.4L1161.4 600.4L1168.6 600.4L1175.8 600.4L1183 600.4L1190.1 600.4L1197.3 600.4L1204.5 600.4L1211.7 600.4L1218.9 600.4L1226.1 600.4L1233.3 600.4L1240.5 600.4L1242.8 600.4L1244.9 596.9L1247.6 593.7L1250.9 590L1254.8 586.9L1259.7 583.1L1262 581.8L1264.9 579.7L1269.2 577.2L1270.6 576.2L1276.4 572.9L1282.5 569.3L1283.6 568.8L1288.4 565.9L1290.8 564.6L1294.4 562.4L1297.9 560.4L1300.2 559L1305.1 556L1311.5 552.1L1317 548.6L1319.5 547L1322.4 545.2L1326.7 542.5L1327.9 541.7L1333.3 538.3L1338.9 534.8L1341.1 533.4L1344.4 531.4L1348.2 528.9L1349.8 527.9L1354.9 524.5L1359.4 521L1362.6 518.2L1366.4 514.1L1368.7 510.7L1369.8 508.5L1370.4 507.2L1371.3 503.8L1371.7 500.3L1371.5 496.9L1371 493.4L1370.2 490L1369.8 488.7L1369.2 486.5L1368.1 483.1L1367.2 479.6L1366.3 476.2L1365.6 472.7L1364.9 469.3L1364.3 465.8L1363.6 462.4L1362.7 458.9L1361 455.5L1358.5 452L1355.4 449L1353.8 448.6L1348.2 447.4L1343.4 448.6L1341.1 449.1L1333.9 452L1326.7 454L1319.5 454.7L1312.3 454.8L1305.1 454.5L1297.9 454.1L1290.8 454L1283.6 454.7L1281.9 455.5L1276.4 458.1L1274.6 458.9L1269.2 461.4L1263.9 458.9L1262 458L1257.3 455.5L1254.8 454.2L1247.6 453L1240.5 452.7L1233.3 452.4L1226.1 452.3L1218.9 452.4L1211.7 452.6L1204.5 453L1197.3 453.6L1190.1 454.4L1183 455.5L1175.8 456.7L1168.6 458.2L1165.8 458.9L1161.4 460L1154.2 462.1L1147 464.4L1142.8 465.8L1139.8 466.9L1132.7 469.1L1125.5 470.8L1118.3 471.6L1111.1 471.7L1103.9 470.9L1100.3 469.3L1096.7 467.7L1095.5 465.8L1093.1 462.4L1090.7 458.9L1089.5 457.5L1088.8 455.5L1087.2 452L1085.2 448.6L1082.6 445.1L1079.7 441.7L1075.6 438.2L1068 435.7L1060.8 437.8L1056.3 441.7L1053.6 445.1L1051.3 448.6L1049.7 452L1048.6 455.5L1047.7 458.9L1047.2 462.4L1046.8 465.8L1046.6 469.3L1046.5 472.7L1046.5 476.2L1046.6 479.6L1046.8 483.1L1047.1 486.5L1047.5 490L1048.1 493.4L1048.7 496.9L1049.5 500.3L1050.5 503.8L1051.5 507.2L1052.6 510.7L1053.6 513.8L1054.2 517.6L1054.1 521L1053.6 523.7L1052.5 524.5L1046.4 525.7L1044.2 524.5L1039.2 522.8L1035.6 521L1032.1 519.7L1026.8 517.6L1024.9 516.9L1017.7 514.7L1014.6 514.1L1010.5 513.4L1003.3 513.1L996.1 513.8L993.5 514.1L988.9 514.7L983.9 514.1L981.8 513.9L977.6 510.7L974.6 507.7L972.6 503.8L971.3 500.3L970.4 496.9L969.7 493.4L969.2 490L968.9 486.5L968.7 483.1L968.5 479.6L968.3 476.2L968.1 472.7L968 469.3L967.7 465.8L967.5 462.4L967.4 460.4L967.3 458.9L967 455.5L966.7 452L966.4 448.6L966.1 445.1L965.7 441.7L965.3 438.2L964.9 434.8L964.4 431.3L963.9 427.9L963.4 424.4L962.7 421L962.1 417.5L961.3 414.1L960.5 410.6L960.2 409.4L959.2 407.2L957.6 403.7L955.9 400.3L954 396.8L953 395.2L945.8 394L942.8 396.8L939.5 400.3L938.6 401.2L936.9 403.7L934.6 407.2L932.6 410.6L931.5 412.8L930.5 414.1L928 417.5L926 421L924.3 424.3L919.9 427.9L917.1 430.8L909.9 430.2L906.4 427.9L902.7 425.8L901.7 424.4L899 421L895.8 417.5L894.2 414.1L892.6 410.6L890.9 407.2L889 403.7L888.3 402.7L887.5 400.3L886.2 396.8L884.9 393.4L883.4 389.9L881.7 386.5L881.2 385.3L880.1 383L878.3 379.6L876.4 376.1L874.3 372.7L868.8 369.2L866.8 368.1L865.4 369.2L861.4 372.7L859.6 374.3L858.6 376.1L856.7 379.6L855 383L853.4 386.5L852.4 388.8L851.8 389.9L850 393.4L848.2 396.8L846.5 400.3L845.2 402.9L844.3 403.7L840.2 407.2L838 408.9L835.8 410.6L831.4 414.1L829.5 417.5L828.1 421L826.9 424.4L825.8 427.9L824.9 431.3L824.1 434.8L823.7 437L823.2 441.7L823 445.1L822.8 448.6L822.7 452L822.6 455.5L822.6 458.9L822.6 462.4L822.7 465.8L822.8 469.3L823 472.7L823.3 476.2L823.5 479.6L824.1 483.1L825 486.5L825.9 490L826.9 493.4L827.6 496.9L828.1 500.3L828.2 503.8L827.8 507.2L827.2 510.7L826.6 514.1L826.1 517.6L825.9 521L826 524.5L826.3 527.9L826.6 531.4L826.8 534.8L826.8 538.3L826.8 541.7L826.6 545.2L826.3 548.6L825.9 552.1L825.6 555.5L825.3 559L824.9 562.4L824.5 565.9L823.9 569.3L823.4 572.8L822.9 576.2L822.1 579.7L820.9 583.1L819.1 586.6L816.6 590L814 593.5L810.3 596.9L809.3 597.7L805 600.4L809.3 600.4ZM857.2 593.5L852.4 591L851.2 590L847.6 586.6L845.2 583.7L842.9 579.7L841.5 576.2L840.5 572.8L839.8 569.3L839.4 565.9L839.1 562.4L838.9 559L838.7 555.5L838.5 552.1L838.3 548.6L838.1 545.2L838 542.9L837.5 538.3L837.3 534.8L837 531.4L836.8 527.9L836.4 524.5L836 521L835.4 517.6L834.7 514.1L834 510.7L833.6 507.2L833.4 503.8L833.8 500.3L834.9 496.9L836.8 493.4L838 491.9L838.8 490L840.6 486.5L842.9 483.1L845.2 480.2L852 476.2L856.6 476.2L859.6 476.3L864.7 476.2L866.8 476.1L874 473.8L875.9 472.7L881.2 469.4L886.3 465.8L888.3 463.9L891 462.4L895.4 458.9L902 455.5L909.9 452.6L917.1 453.1L919.3 455.5L923.4 458.9L925.9 462.4L928.3 465.8L931.1 469.3L933.2 472.7L935.3 476.2L937.4 479.6L938.6 481.7L939.4 483.1L941.3 486.5L942.8 490L944 493.4L944.9 496.9L945.5 500.3L945.7 503.8L945.6 507.2L945.3 510.7L944.7 514.1L943.9 517.6L943 521L942 524.5L941 527.9L940.1 531.4L939.3 534.8L938.6 538.3L938.1 541.7L937.6 545.2L937.3 548.6L937 552.1L936.7 555.5L936.3 559L935.8 562.4L935.2 565.9L934.4 569.3L933.4 572.8L932.4 576.2L931.5 579.3L929 583.1L926.5 586.6L924.3 589.3L922.7 590L917.1 592.3L910.6 593.5L902.7 594.2L895.5 594.7L888.3 595.1L881.2 595.6L874 596.1L866.8 596.6L859.6 594.6L857.2 593.5Z"/>
<path fill="#0000ff" fill-rule="evenodd" d="M435.6 600.4L442.8 600.4L450 600.4L457.2 600.4L464.4 600.4L471.6 600.4L478.7 600.4L485.9 600.4L493.1 600.4L500.3 600.4L507.5 600.4L514.7 600.4L521.9 600.4L529 600.4L536.2 600.4L543.4 600.4L550.6 600.4L557.8 600.4L565 600.4L572.2 600.4L579.3 600.4L586.5 600.4L593.7 600.4L600.9 600.4L593.7 597.3L586.9 593.5L581.4 590L579.3 588.2L574.8 586.6L572.2 585.2L567.7 586.6L565 587.1L559 590L557.8 590.4L550.6 592.8L546.9 593.5L543.4 594L536.2 594.5L529 594.7L521.9 594.7L514.7 594.6L507.5 594.3L500.3 594L493.1 593.6L485.9 594.4L478.7 595.1L471.6 595.8L464.4 596.6L461.4 596.9L457.2 597.4L450 598.3L442.8 599.2L435.6 600.2L431.2 600.4L435.6 600.4ZM816.5 600.4L823.7 600.4L830.9 600.4L838 600.4L845.2 600.4L850.2 600.4L845.2 597.7L843.9 596.9L838.6 593.5L830.9 590.5L824.7 593.5L820.1 596.9L816.5 599.2L814.9 600.4L816.5 600.4ZM931.5 600.4L938.6 600.4L945.8 600.4L953 600.4L960.2 600.4L967.4 600.4L974.6 600.4L981.8 600.4L986.2 600.4L982.6 596.9L981.8 595.8L981 593.5L980.4 590L980.1 586.6L980.2 583.1L980.9 579.7L981.8 577.3L983.9 576.2L988.9 574.7L996.1 573.9L999.1 572.8L1003.3 571.4L1006.3 569.3L1010.5 566.4L1014 562.4L1016.7 559L1017.7 557.4L1018.6 555.5L1019.9 552.1L1020.6 548.6L1020.6 545.2L1019.8 541.7L1017.9 538.3L1013 534.8L1010.5 533.7L1003.3 532.9L996.1 534.4L994.8 534.8L988.9 537.3L984 538.3L981.8 538.9L975.1 534.8L972.5 531.4L970.2 527.9L967.9 524.5L965.5 521L963.1 517.6L961 514.1L960.2 512.6L957.2 514.1L953 516.1L952.6 517.6L951.5 521L950.4 524.5L949.3 527.9L948.2 531.4L947.4 534.8L946.7 538.3L946.1 541.7L945.8 544.7L945.6 548.6L945.5 552.1L945.3 555.5L945.1 559L944.5 562.4L943.7 565.9L942.5 569.3L941 572.8L939.5 576.2L938.6 578.6L938.1 579.7L936.4 583.1L934.9 586.6L933.6 590L932.4 593.5L931.5 596.2L930.6 596.9L926.1 600.4L931.5 600.4ZM1197.3 576.6L1204.5 577L1211.7 577.1L1218.9 576.8L1224.7 576.2L1233.3 575.3L1240.5 573.9L1245.4 572.8L1247.6 572.4L1254.8 570.5L1258.4 569.3L1262 568.3L1268.5 565.9L1276.4 562.7L1283.6 559.4L1290.8 555.7L1297.2 552.1L1302.9 548.6L1305.1 547.2L1308.3 545.2L1312.3 542.4L1313.3 541.7L1318.3 538.3L1319.5 537.4L1323.1 534.8L1326.7 532.2L1327.8 531.4L1332.5 527.9L1333.9 526.9L1337.2 524.5L1341.1 521.5L1345.9 517.6L1348.2 515.4L1349.5 514.1L1352.5 510.7L1354.9 507.2L1355.4 506.1L1356.5 503.8L1357.5 500.3L1358.1 496.9L1358.2 493.4L1358 490L1357.7 486.5L1357.2 483.1L1356.7 479.6L1356.1 476.2L1355.5 472.7L1354.8 469.3L1353.7 465.8L1351.9 462.4L1348.7 458.9L1341.1 458L1333.9 458.8L1326.7 459.2L1319.5 459L1312.3 458.5L1305.1 457.9L1297.9 457.5L1290.8 457.4L1283.6 458.2L1282 458.9L1276.4 461.8L1275.1 462.4L1269.2 465.2L1263.3 462.4L1262 461.8L1256.9 458.9L1254.8 457.8L1247.6 456.6L1240.5 456.1L1233.3 455.7L1226.1 455.5L1223.2 455.5L1218.9 455.4L1217.4 455.5L1211.7 455.6L1204.5 455.9L1197.3 456.5L1190.1 457.2L1183 458.3L1179.5 458.9L1175.8 459.6L1168.6 461.2L1164.1 462.4L1161.4 463.1L1154.2 465.4L1153.1 465.8L1147 468.1L1143.8 469.3L1139.8 470.9L1134.5 472.7L1132.7 473.4L1125.5 475.2L1118.3 475.9L1111.1 475.8L1103.9 474.9L1099 472.7L1096.7 471.7L1095 469.3L1092.7 465.8L1090.4 462.4L1089.5 461.1L1088.8 458.9L1087.4 455.5L1085.7 452L1083.5 448.6L1082.4 447.1L1080.9 445.1L1077.7 441.7L1075.2 439.6L1070.9 438.2L1068 437.3L1064.9 438.2L1060.8 439.5L1058.3 441.7L1055.2 445.1L1053.6 447.6L1053 448.6L1051.2 452L1049.9 455.5L1049 458.9L1048.4 462.4L1048 465.8L1047.8 469.3L1047.8 472.7L1048 476.2L1048.3 479.6L1048.8 483.1L1049.5 486.5L1050.5 490L1051.8 493.4L1053.6 496.9L1055.4 500.3L1057.6 503.8L1060.5 507.2L1063.8 510.7L1067.2 514.1L1068 515L1070.2 517.6L1072.4 521L1074.3 524.5L1075.2 526.3L1075.8 527.9L1077 531.4L1078.6 534.8L1080.9 538.3L1082.4 539.9L1083.7 541.7L1087.3 545.2L1089.5 546.8L1091.9 548.6L1096.7 551.5L1103.9 555.2L1111.1 558.3L1113.2 559L1118.3 560.8L1123.8 562.4L1125.5 563L1132.7 565L1136.6 565.9L1139.8 566.8L1147 568.5L1151.3 569.3L1154.2 570.1L1161.4 571.6L1168.4 572.8L1175.8 574.2L1183 575.2L1190.1 576L1193.6 576.2L1197.3 576.6ZM953 490.2L956.7 486.5L958.6 483.1L959.8 479.6L960.2 477.8L960.3 476.2L960.6 472.7L960.7 469.3L960.7 465.8L960.7 462.4L960.6 458.9L960.4 455.5L960.2 452.2L959.7 448.6L959.2 445.1L958.7 441.7L958 438.2L957.3 434.8L956.4 431.3L955.5 427.9L954.5 424.4L953.4 421L945.8 418.8L944.6 421L942.8 424.4L941.4 427.9L940.1 431.3L939.1 434.8L938.6 437L937.9 441.7L937.6 445.1L937.5 448.6L937.6 452L937.9 455.5L938.4 458.9L939.2 462.4L940.2 465.8L941.5 469.3L942.9 472.7L944.4 476.2L945.8 479.5L949 483.1L951.3 486.5L952.9 490ZM866.8 466.9L869.8 465.8L874 464.1L875.8 462.4L878.6 458.9L880.7 455.5L881.2 454.4L882.2 452L883.3 448.6L884 445.1L884.4 441.7L884.6 438.2L884.6 434.8L884.5 431.3L884.2 427.9L883.8 424.4L883.3 421L882.7 417.5L881.9 414.1L881.2 411.1L880.1 407.2L879.1 403.7L878 400.3L876.7 396.8L875.3 393.4L874 390.3L869.2 386.5L866.8 384.7L865.1 386.5L862.1 389.9L859.6 393.1L858.1 396.8L856.9 400.3L855.7 403.7L854.7 407.2L853.7 410.6L852.8 414.1L852.4 415.9L851.9 417.5L850.8 421L849.8 424.4L849 427.9L848.1 431.3L847.4 434.8L846.9 438.2L846.4 441.7L846.3 445.1L846.5 448.6L847.3 452L849.7 455.5L852.4 457.3L853.3 458.9L856.3 462.4L859.6 464.7L862.6 465.8L866.8 466.9ZM838 462.1L839.2 458.9L840.2 455.5L840.8 452L840 448.6L838 447L837.2 448.6L835.8 452L835 455.5L835.3 458.9L838 462.1Z"/>
<path fill="#0000ff" fill-rule="evenodd" d="M450 600.4L457.2 600.4L464.4 600.4L471.6 600.4L478.7 600.4L485.9 600.4L493.1 600.4L500.3 600.4L507.5 600.4L514.7 600.4L521.9 600.4L529 600.4L536.2 600.4L543.4 600.4L550.6 600.4L557.8 600.4L565 600.4L572.2 600.4L579.3 600.4L586.5 600.4L593 600.4L586.5 597.6L584.4 596.9L579.3 594.7L572.9 593.5L569.7 593.5L565 593.8L557.8 595.1L550.6 596.5L545.9 596.9L543.4 597.1L536.2 597.4L529 597.3L521.9 597.2L516.1 596.9L514.7 596.9L507.5 596.5L500.3 596.1L493.1 595.6L485.9 596.4L480.6 596.9L478.7 597.1L471.6 597.8L464.4 598.4L457.2 599.3L450 600.2ZM938.6 600.4L945.8 600.4L953 600.4L960.2 600.4L967.4 600.4L972 600.4L971.5 596.9L971 593.5L970.4 590L969.5 586.6L968.3 583.1L967.4 581.1L966.9 579.7L965.5 576.2L963.4 572.8L960.6 569.3L953 567.7L951.7 569.3L948.1 572.8L945.8 574.7L944.8 576.2L942.6 579.7L940.9 583.1L939.6 586.6L938.7 590L937.4 593.5L936.3 596.9L935.2 600.4L938.6 600.4ZM1168.6 566.6L1175.8 567.5L1183 568.2L1190.1 568.7L1197.3 569L1204.5 569.1L1211.7 569.1L1218.9 568.8L1226.1 568.2L1233.3 567.4L1240.5 566.2L1241.8 565.9L1247.6 564.8L1254.8 563.1L1256.9 562.4L1262 561L1267.6 559L1269.2 558.4L1276.2 555.5L1283.4 552.1L1289.6 548.6L1290.8 548L1295.2 545.2L1297.9 543.3L1300.2 541.7L1304.7 538.3L1309 534.8L1312.3 532L1317 527.9L1319.5 525.8L1321 524.5L1325.1 521L1326.7 519.7L1329.2 517.6L1333.1 514.1L1333.9 513.4L1336.7 510.7L1339.7 507.2L1341.1 505.4L1342.3 503.8L1344.2 500.3L1345.6 496.9L1346.5 493.4L1346.9 490L1347 486.5L1346.8 483.1L1346.2 479.6L1345.2 476.2L1343.5 472.7L1341.1 469.7L1333.9 466L1326.7 464.4L1319.5 463.1L1314.9 462.4L1312.3 462L1305.1 461.2L1297.9 460.7L1290.8 460.5L1283.6 461.4L1281.7 462.4L1276.4 465.3L1275.3 465.8L1269.2 469L1262.8 465.8L1256.8 462.4L1254.8 461.3L1247.6 459.8L1240.5 459.2L1235.9 458.9L1233.3 458.7L1226.1 458.4L1218.9 458.2L1211.7 458.3L1204.5 458.6L1200.4 458.9L1197.3 459.2L1190.1 459.9L1183 461L1175.8 462.4L1168.6 464.1L1162.9 465.8L1161.4 466.3L1154.2 469L1147 472.2L1145.7 472.7L1139.8 475.6L1138.3 476.2L1132.7 478.6L1128.2 479.6L1125.5 480.3L1118.3 480.8L1111.1 480.5L1105.7 479.6L1103.9 479.4L1096.7 476.2L1094.3 472.7L1092.1 469.3L1090 465.8L1088.7 462.4L1087.4 458.9L1086 455.5L1084.2 452L1082.4 449.3L1079.3 445.1L1075.7 441.7L1068 438.8L1060.8 441.2L1056.8 445.1L1054.5 448.6L1053.6 450.3L1052.6 452L1051.2 455.5L1050.3 458.9L1049.6 462.4L1049.3 465.8L1049.1 469.3L1049.2 472.7L1049.5 476.2L1050 479.6L1050.8 483.1L1051.9 486.5L1053.5 490L1055.1 493.4L1057.3 496.9L1060.2 500.3L1064.3 503.8L1068 506.6L1069.2 507.2L1074.6 510.7L1078.5 514.1L1081.1 517.6L1082.4 519.8L1082.9 521L1084.2 524.5L1085.3 527.9L1086.7 531.4L1088.4 534.8L1089.5 536.5L1090.6 538.3L1093.4 541.7L1096.7 544.6L1102.4 548.6L1103.9 549.5L1109 552.1L1111.1 553L1117.6 555.5L1125.5 558.1L1129.1 559L1132.7 560L1139.8 561.6L1144.2 562.4L1147 563.1L1154.2 564.4L1161.4 565.6L1164 565.9L1168.6 566.6ZM1191.2 507.2L1190.1 505L1189.7 503.8L1197.3 501.9L1204.5 501.7L1211.7 503L1213.9 503.8L1213.4 507.2L1211.7 507.8L1204.5 508.9L1197.3 508.6L1191.2 507.2ZM866.8 449L870.1 445.1L872.2 441.7L873.7 438.2L874.2 434.8L874.3 431.3L874.3 427.9L874.1 424.4L874 423L873.5 421L872.2 417.5L870.6 414.1L868.7 410.6L866.8 407.7L865.4 410.6L864.1 414.1L863 417.5L862.1 421L861.5 424.4L861.1 427.9L861.1 431.3L861.3 434.8L861.9 438.2L862.9 441.7L864.4 445.1L866.4 448.6Z"/>
<path fill="#0008ff" fill-rule="evenodd" d="M464.4 600.4L471.6 600.4L478.7 600.4L485.9 600.4L493.1 600.4L500.3 600.4L507.5 600.4L514.7 600.4L521.9 600.4L529 600.4L536.2 600.4L543.4 600.4L550.6 600.4L557.8 600.4L565 600.4L572.2 600.4L579.3 600.4L584.3 600.4L579.3 598.8L572.2 597.7L565 597.8L557.8 598.5L550.6 599.3L543.4 599.6L536.2 599.7L529 599.5L521.9 599.2L514.7 598.8L507.5 598.4L500.3 598L493.1 597.5L485.9 598.2L478.7 598.9L471.6 599.5L464.4 600.2ZM945.8 600.4L953 600.4L960.2 600.4L966.8 600.4L966.6 596.9L966.4 593.5L965.8 590L964.9 586.6L963.5 583.1L961.2 579.7L960.2 578.5L954.5 576.2L953 575.7L947.6 579.7L945.8 581.1L944.5 583.1L942.7 586.6L941.5 590L940.7 593.5L940.2 596.9L939.8 600.4L945.8 600.4ZM1175.8 563.1L1183 563.7L1190.1 564.1L1197.3 564.3L1204.5 564.3L1211.7 564.1L1218.9 563.7L1226.1 563L1229.9 562.4L1233.3 562L1240.5 560.8L1247.6 559.3L1254.8 557.4L1260.6 555.5L1262 555.1L1269.2 552.2L1276.4 548.8L1282.7 545.2L1287.8 541.7L1290.8 539.4L1292.2 538.3L1296 534.8L1297.9 532.9L1299.5 531.4L1302.8 527.9L1305.1 525.5L1306.2 524.5L1309.7 521L1312.3 518.7L1313.6 517.6L1317.8 514.1L1319.5 512.9L1322.1 510.7L1326.2 507.2L1329.8 503.8L1332.6 500.3L1333.9 498.5L1334.9 496.9L1336.5 493.4L1337.4 490L1337.8 486.5L1337.6 483.1L1336.7 479.6L1334.8 476.2L1333.9 475.1L1331.6 472.7L1326.7 469.9L1325.4 469.3L1319.5 467.3L1313.7 465.8L1312.3 465.5L1305.1 464.4L1297.9 463.8L1290.8 463.6L1283.6 464.7L1281.4 465.8L1276.4 468.9L1269.9 472.7L1262.1 469.3L1256.8 465.8L1254.8 464.7L1247.6 463.1L1241.2 462.4L1233.3 461.7L1226.1 461.2L1218.9 461L1211.7 461L1204.5 461.2L1197.3 461.7L1191.5 462.4L1190.1 462.5L1183 463.7L1175.8 465.2L1173.3 465.8L1168.6 467.2L1162.5 469.3L1161.4 469.8L1154.8 472.7L1148.8 476.2L1147 477.4L1143.4 479.6L1139.8 482.1L1137.7 483.1L1132.7 485.4L1126.3 486.5L1118.3 486.7L1116.3 486.5L1111.1 486.1L1103.9 485L1099.3 483.1L1096.7 482L1095.1 479.6L1093 476.2L1091.1 472.7L1089.5 469.9L1088.4 465.8L1087.3 462.4L1086.1 458.9L1084.6 455.5L1082.6 452L1080.5 448.6L1077.6 445.1L1075.2 442.8L1072.1 441.7L1068 440.3L1063.8 441.7L1060.8 442.8L1058.5 445.1L1055.9 448.6L1054 452L1052.6 455.5L1051.5 458.9L1050.9 462.4L1050.5 465.8L1050.4 469.3L1050.6 472.7L1051 476.2L1051.7 479.6L1052.8 483.1L1053.6 485.1L1054.2 486.5L1055.8 490L1058.1 493.4L1060.8 496.6L1065.9 500.3L1068 501.8L1073.5 503.8L1075.2 504.6L1082 507.2L1086 510.7L1088.3 514.1L1089.5 516.8L1090.9 521L1091.9 524.5L1092.9 527.9L1094.1 531.4L1095.9 534.8L1096.7 536.1L1098.2 538.3L1101.4 541.7L1103.9 543.8L1105.8 545.2L1111.1 548.3L1118.3 551.5L1120 552.1L1125.5 554L1131.3 555.5L1132.7 555.9L1139.8 557.6L1147 559L1154.2 560.3L1161.4 561.4L1168.6 562.3L1170.2 562.4L1175.8 563.1ZM1190 510.7L1183 508.4L1180.2 507.2L1178.5 503.8L1183 501.1L1184.8 500.3L1190.1 499.3L1197.3 498.7L1204.5 498.7L1211.7 499.3L1216.9 500.3L1218.9 501L1224 503.8L1223.6 507.2L1218.9 509.5L1215.1 510.7L1211.7 511.2L1204.5 511.7L1197.3 511.5L1190.1 510.7Z"/>
<path fill="#0014ff" fill-rule="evenodd" d="M485.9 600.4L493.1 600.4L500.3 600.4L507.5 600.4L510.2 600.4L507.5 600.2L500.3 599.7L493.1 599.2L485.9 599.9L480.6 600.4L485.9 600.4ZM945.8 600.4L953 600.4L960.2 600.4L963.6 600.4L963.7 596.9L963.4 593.5L962.7 590L961.3 586.6L960.2 584.7L958.1 583.1L953 580.5L949.4 583.1L945.9 586.6L944.4 590L943.4 593.5L942.9 596.9L942.8 600.4L945.8 600.4ZM1175.8 559.6L1183 560.1L1190.1 560.4L1197.3 560.6L1204.5 560.5L1211.7 560.2L1218.9 559.6L1224 559L1226.1 558.8L1233.3 557.7L1240.5 556.2L1243.4 555.5L1247.6 554.5L1254.8 552.3L1262 549.5L1263.9 548.6L1269.2 545.9L1270.5 545.2L1275.8 541.7L1280.1 538.3L1283.6 534.9L1286.6 531.4L1289.1 527.9L1290.8 525.6L1291.6 524.5L1294.2 521L1297.4 517.6L1301.6 514.1L1305.1 511.9L1306.9 510.7L1312.3 507.4L1317.6 503.8L1319.5 502.4L1321.9 500.3L1325.2 496.9L1326.7 494.8L1327.5 493.4L1329 490L1329.7 486.5L1329.4 483.1L1328.2 479.6L1326.7 477.5L1325.6 476.2L1321 472.7L1319.5 472L1312.3 469.3L1305.1 467.8L1297.9 467L1290.8 466.8L1283.6 468L1281.5 469.3L1276.6 472.7L1271.8 476.2L1269.2 478.6L1265.9 476.2L1262 473.7L1260.9 472.7L1256.3 469.3L1254.8 468.3L1247.6 466.4L1243.5 465.8L1240.5 465.4L1233.3 464.6L1226.1 464L1218.9 463.7L1211.7 463.6L1204.5 463.8L1197.3 464.3L1190.1 465.2L1186.3 465.8L1183 466.5L1175.8 468.2L1172.2 469.3L1168.6 470.6L1163.7 472.7L1161.4 474L1157.8 476.2L1154.2 479.2L1150.6 483.1L1148.2 486.5L1147 488.6L1145.7 490L1140.3 493.4L1132.7 494.6L1125.5 494.6L1118.3 494.2L1111.1 493.7L1107.5 493.4L1103.9 493.2L1096.7 492L1095.3 490L1093.5 486.5L1092 483.1L1090.6 479.6L1089.5 477L1088.7 472.7L1087.9 469.3L1087.1 465.8L1086 462.4L1084.8 458.9L1083.2 455.5L1082.4 454L1081.3 452L1079.1 448.6L1076 445.1L1075.2 444.3L1068 441.7L1060.8 444.4L1057.2 448.6L1055.3 452L1053.9 455.5L1052.8 458.9L1052.1 462.4L1051.7 465.8L1051.7 469.3L1051.9 472.7L1052.5 476.2L1053.4 479.6L1054.6 483.1L1056.1 486.5L1058.2 490L1060.8 493.2L1066 496.9L1068 498.2L1075.2 499.9L1082.4 500L1089.3 500.3L1093.4 503.8L1095 507.2L1096.1 510.7L1096.7 513.1L1097.6 517.6L1098.2 521L1098.8 524.5L1099.6 527.9L1100.8 531.4L1102.6 534.8L1103.9 536.6L1105.2 538.3L1108.9 541.7L1111.1 543.3L1114.1 545.2L1118.3 547.3L1121.4 548.6L1125.5 550.1L1131.9 552.1L1139.8 554.1L1147 555.5L1154.2 556.8L1161.4 557.9L1168.6 558.8L1170.5 559L1175.8 559.6ZM1177.6 510.7L1175.8 510L1169.1 507.2L1165.5 503.8L1167.8 500.3L1175.8 498.2L1183 497.1L1184.6 496.9L1190.1 496.4L1197.3 496.2L1204.5 496.2L1211.7 496.7L1213 496.9L1218.9 497.7L1226.1 499.5L1228.6 500.3L1233.2 503.8L1232.9 507.2L1227.1 510.7L1218.9 512.7L1211.7 513.6L1204.5 513.9L1197.3 513.7L1190.1 513.1L1183 511.9L1177.6 510.7Z"/>
<path fill="#0020ff" fill-rule="evenodd" d="M945.8 600.3L953 600.4L960.2 600.4L960.8 596.9L960.5 593.5L959.1 590L955.8 586.6L953 584.7L950.8 586.6L948 590L946.3 593.5L945.8 596L945.8 600.3ZM1168.6 555.7L1175.8 556.5L1183 557L1190.1 557.2L1197.3 557.3L1204.5 557.1L1211.7 556.7L1218.9 556L1222.2 555.5L1226.1 555L1233.3 553.7L1240 552.1L1247.6 549.8L1250.8 548.6L1254.8 546.9L1258.5 545.2L1262 543.1L1264.2 541.7L1268.5 538.3L1269.2 537.4L1271.6 534.8L1273.8 531.4L1275.2 527.9L1276 524.5L1276.3 521L1276.3 517.6L1276.3 514.1L1280.9 510.7L1283.6 510.4L1290.8 508L1292.6 507.2L1297.9 505.6L1302.2 503.8L1305.1 502.7L1309.7 500.3L1312.3 498.9L1315 496.9L1318.6 493.4L1319.5 492.2L1320.8 490L1321.8 486.5L1321.6 483.1L1320.1 479.6L1316.6 476.2L1312.3 473.8L1309.6 472.7L1305.1 471.5L1297.9 470.4L1290.8 470.3L1283.6 471.8L1282.3 472.7L1278.3 476.2L1276.4 478.4L1275.1 479.6L1272.5 483.1L1270.8 486.5L1269.9 490L1269.7 493.4L1270 496.9L1270.6 500.3L1271.3 503.8L1271.5 507.2L1269.2 509L1267.7 507.2L1266.1 503.8L1266.6 500.3L1267.7 496.9L1268.3 493.4L1267.9 490L1266.6 486.5L1264.4 483.1L1262 480.4L1258.7 476.2L1255.1 472.7L1247.6 470.2L1243 469.3L1240.5 468.9L1233.3 467.8L1226.1 467L1218.9 466.5L1211.7 466.3L1204.5 466.5L1197.3 467.1L1190.1 468L1183.8 469.3L1175.8 471.7L1173.1 472.7L1168.6 475.1L1166.8 476.2L1163.1 479.6L1161.4 482.8L1161.2 486.5L1163.5 490L1168.6 492.3L1175.8 493.4L1183 493.6L1190.1 493.7L1197.3 493.7L1204.5 493.9L1211.7 494.2L1218.9 494.8L1226.1 495.8L1231.9 496.9L1233.3 497.2L1240.5 499.6L1242.6 500.3L1246.7 503.8L1246.2 507.2L1240.5 510.6L1233.3 512.8L1227.4 514.1L1218.9 515.3L1211.7 515.8L1204.5 515.9L1197.3 515.8L1190.1 515.3L1183 514.5L1180.2 514.1L1175.8 513.4L1168.6 511.9L1162.7 510.7L1161.4 510.2L1154.2 508.2L1150.2 507.2L1147 506.2L1139.8 504.7L1133.2 503.8L1125.5 503.2L1118.3 503.4L1116.2 503.8L1111.1 505.4L1109.1 507.2L1107.1 510.7L1106.1 514.1L1105.6 517.6L1105.4 521L1105.6 524.5L1106.2 527.9L1107.4 531.4L1109.2 534.8L1111.1 537.1L1112.1 538.3L1116.5 541.7L1118.3 542.8L1122.9 545.2L1125.5 546.3L1132.2 548.6L1139.8 550.7L1146.1 552.1L1154.2 553.7L1161.4 554.8L1167.3 555.5L1168.6 555.7ZM1068 495.2L1075.2 496.2L1082.4 494L1086.5 490L1087.6 486.5L1087.9 483.1L1087.8 479.6L1087.5 476.2L1087.1 472.7L1086.5 469.3L1085.7 465.8L1084.7 462.4L1083.4 458.9L1082.4 456.6L1081.9 455.5L1080.1 452L1077.6 448.6L1075.2 445.9L1073.4 445.1L1068 443L1062.8 445.1L1060.8 446L1058.6 448.6L1056.5 452L1055 455.5L1054 458.9L1053.6 461L1053.3 462.4L1053 465.8L1053 469.3L1053.3 472.7L1053.6 474.4L1053.9 476.2L1054.9 479.6L1056.2 483.1L1058 486.5L1060.6 490L1065.2 493.4L1068 495.2Z"/>
<path fill="#0028ff" fill-rule="evenodd" d="M953 600.4L955.5 600.4L956.3 596.9L955.8 593.5L953.7 590L950.6 593.5L950 596.9L950.7 600.4L953 600.4ZM1168.6 552.8L1175.8 553.5L1183 554L1190.1 554.3L1197.3 554.3L1204.5 554L1211.7 553.4L1218.9 552.6L1221.9 552.1L1226.1 551.4L1233.3 549.7L1237 548.6L1240.5 547.5L1246.4 545.2L1247.6 544.5L1252.7 541.7L1254.8 540.1L1257.1 538.3L1259.9 534.8L1261.4 531.4L1261.6 527.9L1260.4 524.5L1257.7 521L1254.8 518.9L1250.9 517.6L1247.6 516.9L1240.5 516.7L1233.3 517L1226.1 517.4L1222.7 517.6L1218.9 517.8L1211.7 518L1204.5 518L1197.3 517.8L1193.3 517.6L1190.1 517.4L1183 516.9L1175.8 516.3L1168.6 515.6L1161.4 514.8L1155.2 514.1L1147 513L1139.8 512.1L1132.7 511.4L1125.5 511.7L1118.5 514.1L1115.4 517.6L1113.8 521L1113.1 524.5L1113.3 527.9L1114.3 531.4L1116.3 534.8L1118.3 537L1119.7 538.3L1125 541.7L1132.7 545.1L1139.8 547.2L1145.2 548.6L1147 549.1L1154.2 550.5L1161.4 551.8L1163.5 552.1L1168.6 552.8ZM1283.6 497.2L1290.8 498.4L1297.9 497.4L1299.5 496.9L1305.1 494.8L1307.4 493.4L1311.5 490L1312.3 488.6L1313.2 486.5L1313.1 483.1L1312.3 481.6L1310.8 479.6L1305.2 476.2L1297.9 474.7L1290.8 474.5L1284.9 476.2L1283.6 476.7L1281.2 479.6L1279.5 483.1L1278.7 486.5L1279 490L1280.3 493.4L1283.2 496.9ZM1068 492.6L1075.2 493.1L1080.9 490L1082.4 488.4L1083.7 486.5L1085 483.1L1085.6 479.6L1085.7 476.2L1085.5 472.7L1085 469.3L1084.3 465.8L1083.4 462.4L1082.4 459.6L1080.7 455.5L1078.8 452L1076.2 448.6L1075.2 447.4L1069.9 445.1L1068 444.4L1066.2 445.1L1060.8 447.7L1060 448.6L1057.7 452L1056.1 455.5L1055 458.9L1054.4 462.4L1054.1 465.8L1054.1 469.3L1054.5 472.7L1055.2 476.2L1056.2 479.6L1057.8 483.1L1060 486.5L1060.8 487.6L1064 490L1068 492.6ZM1190.1 490.4L1197.3 490.8L1204.5 491.1L1211.7 491.4L1218.9 491.7L1226.1 492.1L1233.3 492.4L1240.5 492.6L1247.6 492.6L1254.8 490.4L1256.3 486.5L1256.1 483.1L1254.9 479.6L1249.7 476.2L1247.6 475.3L1240.5 473.2L1239 472.7L1233.3 471.6L1226.1 470.4L1218.9 469.6L1211.7 469.3L1204.5 469.4L1197.3 470.1L1190.1 471.4L1184.6 472.7L1183 473.3L1176.7 476.2L1175.8 477L1173 479.6L1172.1 483.1L1174.4 486.5L1175.8 487.3L1183 489.6L1185.5 490L1190.1 490.4Z"/>
<path fill="#0034ff" fill-rule="evenodd" d="M1161.4 548.7L1168.6 549.8L1175.8 550.6L1183 551.1L1190.1 551.4L1197.3 551.3L1204.5 550.9L1211.7 550.2L1218.9 549.1L1221.2 548.6L1226.1 547.5L1233.3 545.3L1240.5 542L1245.6 538.3L1247.6 535.6L1249 531.4L1247.8 527.9L1243.8 524.5L1240.5 523.1L1233.3 521.5L1228.9 521L1226.1 520.8L1218.9 520.6L1211.7 520.5L1204.5 520.3L1197.3 520.1L1190.1 519.8L1183 519.5L1175.8 519.2L1168.6 519L1161.4 518.9L1154.2 518.7L1147 518.6L1139.8 518.5L1132.7 518.9L1126.1 521L1122.9 524.5L1122 527.9L1122.6 531.4L1124.6 534.8L1125.5 535.6L1128.8 538.3L1132.7 540.4L1135.4 541.7L1139.8 543.3L1145.6 545.2L1147 545.6L1154.2 547.3L1160.9 548.6ZM1068 490.3L1075.2 490.2L1080.1 486.5L1082.2 483.1L1083.3 479.6L1083.8 476.2L1083.9 472.7L1083.6 469.3L1083 465.8L1082.4 463.5L1081 458.9L1079.5 455.5L1077.5 452L1075.2 449L1068 445.8L1062 448.6L1060.8 449.3L1058.9 452L1057.2 455.5L1056.1 458.9L1055.4 462.4L1055.1 465.8L1055.2 469.3L1055.6 472.7L1056.4 476.2L1057.6 479.6L1059.4 483.1L1060.8 485.1L1062.5 486.5L1067.5 490ZM1197.3 486.9L1204.5 487.5L1211.7 487.7L1218.9 487.6L1226.1 487.1L1230 486.5L1233.3 485.3L1237.3 483.1L1236.5 479.6L1233.3 477.9L1230.1 476.2L1226.1 475.1L1218.9 473.8L1211.7 473.1L1204.5 473.3L1197.3 474.3L1190.1 476.1L1185.2 479.6L1185.6 483.1L1190.1 485.4L1194.3 486.5L1197.3 486.9ZM1290.8 487.3L1297.9 486.7L1298.2 483.1L1290.8 482.6L1289.9 486.5L1290.8 487.3Z"/>
<path fill="#003cff" fill-rule="evenodd" d="M1161.4 545.3L1168.6 546.6L1175.8 547.5L1183 548.1L1190.1 548.3L1197.3 548.2L1204.5 547.6L1211.7 546.6L1218.8 545.2L1226.1 542.7L1228.5 541.7L1233.3 538.6L1236.1 534.8L1235.9 531.4L1233.3 528.6L1226.1 525.6L1221.4 524.5L1218.9 524.2L1211.7 523.5L1204.5 523L1197.3 522.7L1190.1 522.5L1183 522.3L1175.8 522.4L1168.6 522.6L1161.4 523.1L1154.2 523.7L1147 524.4L1139.8 526L1135.9 527.9L1134.1 531.4L1136 534.8L1139.8 537.8L1147 541.2L1148.4 541.7L1154.2 543.4L1160.8 545.2ZM1068 488.2L1075.2 487.6L1076.6 486.5L1079.6 483.1L1081.2 479.6L1082 476.2L1082.3 472.7L1082.2 469.3L1081.7 465.8L1081 462.4L1079.9 458.9L1078.4 455.5L1076.3 452L1075.2 450.6L1071.3 448.6L1068 447.1L1064.9 448.6L1060.8 451L1060.1 452L1058.3 455.5L1057.1 458.9L1056.4 462.4L1056.1 465.8L1056.2 469.3L1056.7 472.7L1057.6 476.2L1059 479.6L1060.8 482.7L1065.6 486.5L1068 488.2Z"/>
<path fill="#0048ff" fill-rule="evenodd" d="M1168.6 542.6L1175.8 543.9L1183 544.6L1190.1 544.9L1197.3 544.6L1204.5 543.7L1211.7 542.2L1213.3 541.7L1218.9 539.1L1220.4 538.3L1222.7 534.8L1221.1 531.4L1218.9 530.2L1213.1 527.9L1211.7 527.7L1204.5 526.7L1197.3 526.1L1190.1 525.8L1183 525.9L1175.8 526.3L1168.6 527.1L1163.4 527.9L1161.4 528.5L1154.2 531L1152 534.8L1154.2 536.8L1155.8 538.3L1161.4 540.5L1164.8 541.7L1168.6 542.6ZM1068 486.1L1075.2 485L1077.1 483.1L1079.3 479.6L1080.4 476.2L1080.9 472.7L1080.9 469.3L1080.6 465.8L1079.9 462.4L1078.8 458.9L1077.2 455.5L1075.2 452.3L1068.2 448.6L1061.9 452L1060.8 452.9L1059.4 455.5L1058.1 458.9L1057.4 462.4L1057.1 465.8L1057.3 469.3L1057.8 472.7L1058.9 476.2L1060.4 479.6L1063.9 483.1L1068 486.1Z"/>
<path fill="#0054ff" fill-rule="evenodd" d="M1183 539.2L1190.1 539.6L1197.3 538.9L1200.1 538.3L1204.3 534.8L1197.3 531.5L1190.1 530.9L1183 531.2L1181.5 531.4L1175.8 533.3L1173.3 534.8L1175.8 537.3L1177.4 538.3L1183 539.2ZM1068 484.1L1072.9 483.1L1075.2 482.5L1077.3 479.6L1078.8 476.2L1079.5 472.7L1079.7 469.3L1079.4 465.8L1078.8 462.4L1077.7 458.9L1076 455.5L1075.2 454.1L1072 452L1068 449.9L1064.4 452L1060.8 454.9L1059.2 458.9L1058.4 462.4L1058.1 465.8L1058.3 469.3L1058.9 472.7L1060.1 476.2L1060.8 477.7L1062.6 479.6L1066.6 483.1L1068 484.1Z"/>
<path fill="#005cff" fill-rule="evenodd" d="M1068 482.1L1075.2 479.8L1077.2 476.2L1078.1 472.7L1078.5 469.3L1078.3 465.8L1077.6 462.4L1076.5 458.9L1075.2 456.1L1069.2 452L1068 451.4L1066.9 452L1062.4 455.5L1060.8 457.4L1060.2 458.9L1059.4 462.4L1059.1 465.8L1059.4 469.3L1060.1 472.7L1060.8 474.8L1061.7 476.2L1065 479.6L1068 482.1Z"/>
<path fill="#0068ff" fill-rule="evenodd" d="M1068 480.1L1069.5 479.6L1075.2 476.9L1076.7 472.7L1077.2 469.3L1077.1 465.8L1076.5 462.4L1075.4 458.9L1071.9 455.5L1068 453L1064.7 455.5L1061.7 458.9L1060.8 460.8L1060.4 462.4L1060.2 465.8L1060.4 469.3L1060.8 471.1L1061.5 472.7L1063.9 476.2L1067.4 479.6Z"/>
<path fill="#0070ff" fill-rule="evenodd" d="M1068 478L1071.8 476.2L1075.2 473.3L1076 469.3L1076 465.8L1075.4 462.4L1073.2 458.9L1069.2 455.5L1068 454.7L1066.9 455.5L1063.8 458.9L1062.1 462.4L1061.5 465.8L1062 469.3L1063.6 472.7L1066.1 476.2L1068 478Z"/>
<path fill="#007cff" fill-rule="evenodd" d="M1068 475.7L1072.1 472.7L1074.1 469.3L1074.3 465.8L1073.1 462.4L1070.6 458.9L1068 456.6L1065.9 458.9L1064 462.4L1063.5 465.8L1064 469.3L1065.6 472.7L1068 475.7Z"/>
<path fill="#0084ff" fill-rule="evenodd" d="M1068 473.1L1071 469.3L1071.6 465.8L1070.5 462.4L1068.1 458.9L1066 462.4L1065.4 465.8L1066 469.3L1067.7 472.7Z"/>
<path fill="#0090ff" fill-rule="evenodd" d="M1068 469.2L1068.8 465.8L1068 462.5L1067.4 465.8L1068 469.2Z"/>
</g>
<path d="M435.5 48.30V600.40M780.5 48.30V600.40M1125.5 48.30V600.40M90.70 531.5H1470.40M90.70 462.5H1470.40M90.70 393.5H1470.40M90.70 324.5H1470.40M90.70 255.5H1470.40M90.70 186.5H1470.40M90.70 117.5H1470.40" stroke="#b0b0b0" stroke-width="1" fill="none"/>
<rect x="90.70" y="48.30" width="1379.70" height="552.10" fill="none" stroke="#000" stroke-width="3.3"/>
<path d="M90.5 600.40v5.5M435.5 600.40v5.5M780.5 600.40v5.5M1125.5 600.40v5.5M1470.5 600.40v5.5M90.70 600.5h-5.4M90.70 531.5h-5.4M90.70 462.5h-5.4M90.70 393.5h-5.4M90.70 324.5h-5.4M90.70 255.5h-5.4M90.70 186.5h-5.4M90.70 117.5h-5.4M90.70 48.5h-5.4" stroke="#000" stroke-width="1.1" fill="none"/>
<text x="90.50" y="631.6" font-size="27.78" text-anchor="middle">0</text>
<text x="434.88" y="631.6" font-size="27.78" text-anchor="middle">12</text>
<text x="779.65" y="631.6" font-size="27.78" text-anchor="middle">24</text>
<text x="1124.58" y="631.6" font-size="27.78" text-anchor="middle">36</text>
<text x="1470.00" y="631.6" font-size="27.78" text-anchor="middle">48</text>
<text x="80.5" y="610.80" font-size="27.78" text-anchor="end">0</text>
<text x="80.5" y="541.79" font-size="27.78" text-anchor="end">1</text>
<text x="80.5" y="472.77" font-size="27.78" text-anchor="end">2</text>
<text x="80.5" y="403.76" font-size="27.78" text-anchor="end">3</text>
<text x="80.5" y="334.75" font-size="27.78" text-anchor="end">4</text>
<text x="80.5" y="265.74" font-size="27.78" text-anchor="end">5</text>
<text x="80.5" y="196.72" font-size="27.78" text-anchor="end">6</text>
<text x="80.5" y="127.71" font-size="27.78" text-anchor="end">7</text>
<text x="80.5" y="58.70" font-size="27.78" text-anchor="end">8</text>
<text x="780.5" y="39.6" font-size="33.33" text-anchor="middle" xml:space="preserve">WRF-Chem Ext. Coeff. 300nm  20260312 00UTC 48h fcst at Chiwaukee lidar site</text>
<text x="780" y="665.6" font-size="27.78" text-anchor="middle">Forecast Time (Hour)</text>
<text transform="translate(49.5,324.5) rotate(-90)" font-size="27.78" text-anchor="middle">Alt AGL (km)</text>
<g><rect x="153.50" y="687.90" width="13.27" height="24.00" fill="#000084"/><rect x="166.17" y="687.90" width="13.27" height="24.00" fill="#00008d"/><rect x="178.83" y="687.90" width="13.27" height="24.00" fill="#00009b"/><rect x="191.50" y="687.90" width="13.27" height="24.00" fill="#0000a8"/><rect x="204.17" y="687.90" width="13.27" height="24.00" fill="#0000b2"/><rect x="216.83" y="687.90" width="13.27" height="24.00" fill="#0000bf"/><rect x="229.50" y="687.90" width="13.27" height="24.00" fill="#0000c8"/><rect x="242.17" y="687.90" width="13.27" height="24.00" fill="#0000d6"/><rect x="254.83" y="687.90" width="13.27" height="24.00" fill="#0000df"/><rect x="267.50" y="687.90" width="13.27" height="24.00" fill="#0000ed"/><rect x="280.17" y="687.90" width="13.27" height="24.00" fill="#0000fa"/><rect x="292.83" y="687.90" width="13.27" height="24.00" fill="#0000ff"/><rect x="305.50" y="687.90" width="13.27" height="24.00" fill="#0000ff"/><rect x="318.17" y="687.90" width="13.27" height="24.00" fill="#0008ff"/><rect x="330.83" y="687.90" width="13.27" height="24.00" fill="#0014ff"/><rect x="343.50" y="687.90" width="13.27" height="24.00" fill="#0020ff"/><rect x="356.17" y="687.90" width="13.27" height="24.00" fill="#0028ff"/><rect x="368.83" y="687.90" width="13.27" height="24.00" fill="#0034ff"/><rect x="381.50" y="687.90" width="13.27" height="24.00" fill="#003cff"/><rect x="394.17" y="687.90" width="13.27" height="24.00" fill="#0048ff"/><rect x="406.83" y="687.90" width="13.27" height="24.00" fill="#0054ff"/><rect x="419.50" y="687.90" width="13.27" height="24.00" fill="#005cff"/><rect x="432.17" y="687.90" width="13.27" height="24.00" fill="#0068ff"/><rect x="444.83" y="687.90" width="13.27" height="24.00" fill="#0070ff"/><rect x="457.50" y="687.90" width="13.27" height="24.00" fill="#007cff"/><rect x="470.17" y="687.90" width="13.27" height="24.00" fill="#0084ff"/><rect x="482.83" y="687.90" width="13.27" height="24.00" fill="#0090ff"/><rect x="495.50" y="687.90" width="13.27" height="24.00" fill="#009cff"/><rect x="508.17" y="687.90" width="13.27" height="24.00" fill="#00a4ff"/><rect x="520.83" y="687.90" width="13.27" height="24.00" fill="#00b0ff"/><rect x="533.50" y="687.90" width="13.27" height="24.00" fill="#00b8ff"/><rect x="546.17" y="687.90" width="13.27" height="24.00" fill="#00c4ff"/><rect x="558.83" y="687.90" width="13.27" height="24.00" fill="#00d0ff"/><rect x="571.50" y="687.90" width="13.27" height="24.00" fill="#00d8ff"/><rect x="584.17" y="687.90" width="13.27" height="24.00" fill="#00e4f8"/><rect x="596.83" y="687.90" width="13.27" height="24.00" fill="#06ecf1"/><rect x="609.50" y="687.90" width="13.27" height="24.00" fill="#0ff8e7"/><rect x="622.17" y="687.90" width="13.27" height="24.00" fill="#16ffe1"/><rect x="634.83" y="687.90" width="13.27" height="24.00" fill="#1fffd7"/><rect x="647.50" y="687.90" width="13.27" height="24.00" fill="#29ffce"/><rect x="660.17" y="687.90" width="13.27" height="24.00" fill="#30ffc7"/><rect x="672.83" y="687.90" width="13.27" height="24.00" fill="#39ffbe"/><rect x="685.50" y="687.90" width="13.27" height="24.00" fill="#40ffb7"/><rect x="698.17" y="687.90" width="13.27" height="24.00" fill="#49ffad"/><rect x="710.83" y="687.90" width="13.27" height="24.00" fill="#53ffa4"/><rect x="723.50" y="687.90" width="13.27" height="24.00" fill="#5aff9d"/><rect x="736.17" y="687.90" width="13.27" height="24.00" fill="#63ff94"/><rect x="748.83" y="687.90" width="13.27" height="24.00" fill="#6aff8d"/><rect x="761.50" y="687.90" width="13.27" height="24.00" fill="#73ff83"/><rect x="774.17" y="687.90" width="13.27" height="24.00" fill="#7dff7a"/><rect x="786.83" y="687.90" width="13.27" height="24.00" fill="#83ff73"/><rect x="799.50" y="687.90" width="13.27" height="24.00" fill="#8dff6a"/><rect x="812.17" y="687.90" width="13.27" height="24.00" fill="#94ff63"/><rect x="824.83" y="687.90" width="13.27" height="24.00" fill="#9dff5a"/><rect x="837.50" y="687.90" width="13.27" height="24.00" fill="#a4ff53"/><rect x="850.17" y="687.90" width="13.27" height="24.00" fill="#adff49"/><rect x="862.83" y="687.90" width="13.27" height="24.00" fill="#b7ff40"/><rect x="875.50" y="687.90" width="13.27" height="24.00" fill="#beff39"/><rect x="888.17" y="687.90" width="13.27" height="24.00" fill="#c7ff30"/><rect x="900.83" y="687.90" width="13.27" height="24.00" fill="#ceff29"/><rect x="913.50" y="687.90" width="13.27" height="24.00" fill="#d7ff1f"/><rect x="926.17" y="687.90" width="13.27" height="24.00" fill="#e1ff16"/><rect x="938.83" y="687.90" width="13.27" height="24.00" fill="#e7ff0f"/><rect x="951.50" y="687.90" width="13.27" height="24.00" fill="#f1fc06"/><rect x="964.17" y="687.90" width="13.27" height="24.00" fill="#f8f500"/><rect x="976.83" y="687.90" width="13.27" height="24.00" fill="#ffea00"/><rect x="989.50" y="687.90" width="13.27" height="24.00" fill="#ffe200"/><rect x="1002.17" y="687.90" width="13.27" height="24.00" fill="#ffd700"/><rect x="1014.83" y="687.90" width="13.27" height="24.00" fill="#ffcc00"/><rect x="1027.50" y="687.90" width="13.27" height="24.00" fill="#ffc400"/><rect x="1040.17" y="687.90" width="13.27" height="24.00" fill="#ffb900"/><rect x="1052.83" y="687.90" width="13.27" height="24.00" fill="#ffb200"/><rect x="1065.50" y="687.90" width="13.27" height="24.00" fill="#ffa700"/><rect x="1078.17" y="687.90" width="13.27" height="24.00" fill="#ff9c00"/><rect x="1090.83" y="687.90" width="13.27" height="24.00" fill="#ff9400"/><rect x="1103.50" y="687.90" width="13.27" height="24.00" fill="#ff8900"/><rect x="1116.17" y="687.90" width="13.27" height="24.00" fill="#ff8200"/><rect x="1128.83" y="687.90" width="13.27" height="24.00" fill="#ff7700"/><rect x="1141.50" y="687.90" width="13.27" height="24.00" fill="#ff6f00"/><rect x="1154.17" y="687.90" width="13.27" height="24.00" fill="#ff6400"/><rect x="1166.83" y="687.90" width="13.27" height="24.00" fill="#ff5900"/><rect x="1179.50" y="687.90" width="13.27" height="24.00" fill="#ff5200"/><rect x="1192.17" y="687.90" width="13.27" height="24.00" fill="#ff4700"/><rect x="1204.83" y="687.90" width="13.27" height="24.00" fill="#ff3f00"/><rect x="1217.50" y="687.90" width="13.27" height="24.00" fill="#ff3400"/><rect x="1230.17" y="687.90" width="13.27" height="24.00" fill="#ff2900"/><rect x="1242.83" y="687.90" width="13.27" height="24.00" fill="#ff2200"/><rect x="1255.50" y="687.90" width="13.27" height="24.00" fill="#ff1600"/><rect x="1268.17" y="687.90" width="13.27" height="24.00" fill="#fa0f00"/><rect x="1280.83" y="687.90" width="13.27" height="24.00" fill="#ed0400"/><rect x="1293.50" y="687.90" width="13.27" height="24.00" fill="#df0000"/><rect x="1306.17" y="687.90" width="13.27" height="24.00" fill="#d60000"/><rect x="1318.83" y="687.90" width="13.27" height="24.00" fill="#c80000"/><rect x="1331.50" y="687.90" width="13.27" height="24.00" fill="#bf0000"/><rect x="1344.17" y="687.90" width="13.27" height="24.00" fill="#b20000"/><rect x="1356.83" y="687.90" width="13.27" height="24.00" fill="#a80000"/><rect x="1369.50" y="687.90" width="13.27" height="24.00" fill="#9b0000"/><rect x="1382.17" y="687.90" width="13.27" height="24.00" fill="#8d0000"/><rect x="1394.83" y="687.90" width="13.27" height="24.00" fill="#840000"/></g>
<path d="M154.00 687.90L91.20 699.90L154.00 711.90Z" fill="#000080"/>
<path d="M1407.00 687.90L1468.70 699.90L1407.00 711.90Z" fill="#800000"/>
<path d="M91.20 699.90L153.50 687.90L1407.50 687.90L1468.70 699.90L1407.50 711.90L153.50 711.90Z" fill="none" stroke="#000" stroke-width="2.8" stroke-linejoin="round"/>
<text x="153.30" y="743.8" font-size="27.78" text-anchor="middle">0</text>
<text x="403.80" y="743.8" font-size="27.78" text-anchor="middle">50</text>
<text x="654.10" y="743.8" font-size="27.78" text-anchor="middle">100</text>
<text x="904.90" y="743.8" font-size="27.78" text-anchor="middle">150</text>
<text x="1156.10" y="743.8" font-size="27.78" text-anchor="middle">200</text>
<text x="1407.10" y="743.8" font-size="27.78" text-anchor="middle">250</text>
<path d="M153.5 713.30v5.0M404.5 713.30v5.0M655.5 713.30v5.0M905.5 713.30v5.0M1156.5 713.30v5.0M1407.5 713.30v5.0" stroke="#000" stroke-width="1.1" fill="none"/>
<text x="781.3" y="781.3" font-size="27.78" text-anchor="middle" xml:space="preserve">Ext. Coeff. 300nm  (10<tspan font-size="19.45" dy="-10.6">−6</tspan><tspan dy="10.6"> m</tspan><tspan font-size="19.45" dy="-10.6">−1</tspan><tspan dy="10.6" dx="2.7">)</tspan></text>
</svg></body></html>
